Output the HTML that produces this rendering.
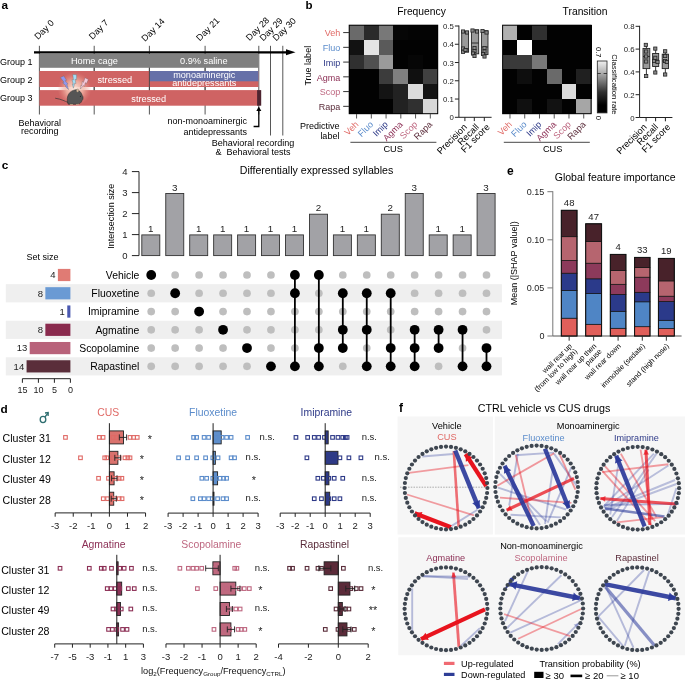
<!DOCTYPE html>
<html><head><meta charset="utf-8"><style>
html,body{margin:0;padding:0;background:#fff;width:685px;height:680px;overflow:hidden}
svg{display:block;font-family:"Liberation Sans", sans-serif;will-change:transform}
</style></head><body>
<svg width="685" height="680" viewBox="0 0 685 680">
<text x="1.50" y="8.80" font-size="11.8" text-anchor="start" fill="#000" font-weight="bold">a</text>
<text x="38.00" y="40.10" font-size="9" text-anchor="start" fill="#000" transform="rotate(-45 38.00 40.10)">Day 0</text>
<text x="92.40" y="39.90" font-size="9" text-anchor="start" fill="#000" transform="rotate(-45 92.40 39.90)">Day 7</text>
<text x="145.10" y="42.00" font-size="9" text-anchor="start" fill="#000" transform="rotate(-45 145.10 42.00)">Day 14</text>
<text x="199.80" y="41.40" font-size="9" text-anchor="start" fill="#000" transform="rotate(-45 199.80 41.40)">Day 21</text>
<text x="249.60" y="41.20" font-size="9" text-anchor="start" fill="#000" transform="rotate(-45 249.60 41.20)">Day 28</text>
<text x="263.20" y="41.60" font-size="9" text-anchor="start" fill="#000" transform="rotate(-45 263.20 41.60)">Day 29</text>
<text x="276.30" y="41.60" font-size="9" text-anchor="start" fill="#000" transform="rotate(-45 276.30 41.60)">Day 30</text>
<line x1="39.40" y1="45.80" x2="39.40" y2="114.50" stroke="#444" stroke-width="0.9"/>
<line x1="94.20" y1="45.80" x2="94.20" y2="114.50" stroke="#444" stroke-width="0.9"/>
<line x1="149.40" y1="45.80" x2="149.40" y2="114.50" stroke="#444" stroke-width="0.9"/>
<line x1="205.10" y1="45.80" x2="205.10" y2="114.50" stroke="#444" stroke-width="0.9"/>
<line x1="258.80" y1="45.80" x2="258.80" y2="114.50" stroke="#444" stroke-width="0.9"/>
<line x1="270.50" y1="45.80" x2="270.50" y2="135.50" stroke="#444" stroke-width="0.9"/>
<line x1="282.80" y1="45.80" x2="282.80" y2="135.50" stroke="#444" stroke-width="0.9"/>
<rect x="39.40" y="53.80" width="219.00" height="14.00" fill="#808080"/>
<rect x="39.40" y="71.00" width="219.00" height="16.00" fill="#CF6363"/>
<rect x="149.40" y="71.00" width="109.00" height="10.30" fill="#6670A8"/>
<rect x="39.40" y="90.10" width="219.00" height="15.60" fill="#CF6363"/>
<rect x="257.10" y="90.10" width="4.10" height="15.60" fill="#4E2430"/>
<line x1="94.20" y1="67.80" x2="94.20" y2="71.00" stroke="#444" stroke-width="0.9"/>
<line x1="94.20" y1="87.00" x2="94.20" y2="90.10" stroke="#444" stroke-width="0.9"/>
<line x1="149.40" y1="67.80" x2="149.40" y2="71.00" stroke="#444" stroke-width="0.9"/>
<line x1="149.40" y1="87.00" x2="149.40" y2="90.10" stroke="#444" stroke-width="0.9"/>
<line x1="205.10" y1="67.80" x2="205.10" y2="71.00" stroke="#444" stroke-width="0.9"/>
<line x1="205.10" y1="87.00" x2="205.10" y2="90.10" stroke="#444" stroke-width="0.9"/>
<line x1="149.40" y1="71.00" x2="149.40" y2="87.00" stroke="#444" stroke-width="0.9"/>
<line x1="34.00" y1="52.30" x2="287.00" y2="52.30" stroke="#000" stroke-width="2.2"/>
<polygon points="286.00,49.30 295.50,52.30 286.00,55.30" fill="#000"/>
<text x="0.00" y="65.00" font-size="9" text-anchor="start" fill="#000">Group 1</text>
<text x="0.00" y="83.20" font-size="9" text-anchor="start" fill="#000">Group 2</text>
<text x="0.00" y="101.20" font-size="9" text-anchor="start" fill="#000">Group 3</text>
<text x="94.40" y="64.20" font-size="9.2" text-anchor="middle" fill="#fff">Home cage</text>
<text x="203.80" y="64.20" font-size="9.2" text-anchor="middle" fill="#fff">0.9% saline</text>
<text x="114.80" y="82.80" font-size="9.2" text-anchor="middle" fill="#fff">stressed</text>
<text x="148.70" y="101.80" font-size="9.2" text-anchor="middle" fill="#fff">stressed</text>
<text x="204.30" y="77.60" font-size="9.1" text-anchor="middle" fill="#fff">monoaminergic</text>
<text x="204.30" y="85.60" font-size="9.1" text-anchor="middle" fill="#fff">antidepressants</text>
<defs><radialGradient id="glow"><stop offset="0" stop-color="#fbe8de" stop-opacity="1"/><stop offset="0.5" stop-color="#f2b8a8" stop-opacity="0.8"/><stop offset="1" stop-color="#e88a80" stop-opacity="0"/></radialGradient></defs>
<ellipse cx="74.5" cy="89" rx="17" ry="17" fill="url(#glow)"/>
<polygon points="63.78,75.88 60.40,77.62 64.02,82.24 62.55,82.67 66.40,86.20 65.29,86.45 68.60,89.60 66.89,84.32 68.09,84.03 65.04,80.74 66.51,80.31" fill="#9098F0" stroke="#666" stroke-width="0.35" stroke-linejoin="round"/>
<polygon points="76.59,74.78 72.81,74.44 73.42,79.98 71.95,79.57 73.34,84.36 72.27,83.99 73.40,88.20 74.75,83.11 75.92,83.49 75.09,79.30 76.56,79.71" fill="#A2DEF6" stroke="#666" stroke-width="0.35" stroke-linejoin="round"/>
<polygon points="88.32,79.62 85.05,77.68 83.52,82.40 82.35,81.43 81.79,85.88 80.97,85.11 80.40,89.00 83.53,85.51 84.44,86.33 85.27,82.60 86.43,83.57" fill="#F6C8DA" stroke="#666" stroke-width="0.35" stroke-linejoin="round"/>
<path d="M68.2 104.2 C66.3 100.5 66.6 91.5 74.8 89.9 C79 89.4 81.3 92.3 82.1 95.2 C83.4 96.6 83.5 99.3 82.0 100.6 C81.4 102.8 79.6 104.1 77.2 104.3 Z" fill="#555555" stroke="#222" stroke-width="0.5"/>
<ellipse cx="77.6" cy="90.6" rx="1.2" ry="1.6" fill="#d8b898" stroke="#555" stroke-width="0.3"/>
<circle cx="80.40" cy="96.20" r="0.55" fill="#111"/>
<path d="M68.3 102.6 C65 101.2 61.5 99.2 55.2 98.2" fill="none" stroke="#333" stroke-width="0.7"/>
<path d="M70 104.4 L73 104.6 M76 104.5 L79 104.3" fill="none" stroke="#c8a888" stroke-width="0.8"/>
<text x="39.70" y="126.00" font-size="9" text-anchor="middle" fill="#000">Behavioral</text>
<text x="39.70" y="134.00" font-size="9" text-anchor="middle" fill="#000">recording</text>
<text x="247.00" y="124.00" font-size="9" text-anchor="end" fill="#000">non-monoaminergic</text>
<text x="247.00" y="134.80" font-size="9" text-anchor="end" fill="#000">antidepressants</text>
<path d="M253.6 126.5 L258.8 126.5 L258.8 110" fill="none" stroke="#000" stroke-width="1.3"/>
<polygon points="256.30,111.00 258.80,106.50 261.30,111.00" fill="#000"/>
<text x="253.00" y="146.40" font-size="9" text-anchor="middle" fill="#000">Behavioral recording</text>
<text x="253.00" y="155.20" font-size="9" text-anchor="middle" fill="#000">&amp;&#160; Behavioral tests</text>
<text x="305.50" y="9.30" font-size="11.5" text-anchor="start" fill="#000" font-weight="bold">b</text>
<text x="421.50" y="15.20" font-size="10.3" text-anchor="middle" fill="#000">Frequency</text>
<text x="585.00" y="15.20" font-size="10.3" text-anchor="middle" fill="#000">Transition</text>
<rect x="349.20" y="25.20" width="15.25" height="15.25" fill="rgb(106,106,106)" shape-rendering="crispEdges"/>
<rect x="363.95" y="25.20" width="15.25" height="15.25" fill="rgb(42,42,42)" shape-rendering="crispEdges"/>
<rect x="378.70" y="25.20" width="15.25" height="15.25" fill="rgb(120,120,120)" shape-rendering="crispEdges"/>
<rect x="393.45" y="25.20" width="15.25" height="15.25" fill="rgb(6,6,6)" shape-rendering="crispEdges"/>
<rect x="408.20" y="25.20" width="15.25" height="15.25" fill="rgb(4,4,4)" shape-rendering="crispEdges"/>
<rect x="422.95" y="25.20" width="15.25" height="15.25" fill="rgb(4,4,4)" shape-rendering="crispEdges"/>
<rect x="349.20" y="39.95" width="15.25" height="15.25" fill="rgb(18,18,18)" shape-rendering="crispEdges"/>
<rect x="363.95" y="39.95" width="15.25" height="15.25" fill="rgb(228,228,228)" shape-rendering="crispEdges"/>
<rect x="378.70" y="39.95" width="15.25" height="15.25" fill="rgb(90,90,90)" shape-rendering="crispEdges"/>
<rect x="393.45" y="39.95" width="15.25" height="15.25" fill="rgb(2,2,2)" shape-rendering="crispEdges"/>
<rect x="408.20" y="39.95" width="15.25" height="15.25" fill="rgb(2,2,2)" shape-rendering="crispEdges"/>
<rect x="422.95" y="39.95" width="15.25" height="15.25" fill="rgb(2,2,2)" shape-rendering="crispEdges"/>
<rect x="349.20" y="54.70" width="15.25" height="15.25" fill="rgb(48,48,48)" shape-rendering="crispEdges"/>
<rect x="363.95" y="54.70" width="15.25" height="15.25" fill="rgb(80,80,80)" shape-rendering="crispEdges"/>
<rect x="378.70" y="54.70" width="15.25" height="15.25" fill="rgb(154,154,154)" shape-rendering="crispEdges"/>
<rect x="393.45" y="54.70" width="15.25" height="15.25" fill="rgb(2,2,2)" shape-rendering="crispEdges"/>
<rect x="408.20" y="54.70" width="15.25" height="15.25" fill="rgb(6,6,6)" shape-rendering="crispEdges"/>
<rect x="422.95" y="54.70" width="15.25" height="15.25" fill="rgb(2,2,2)" shape-rendering="crispEdges"/>
<rect x="349.20" y="69.45" width="15.25" height="15.25" fill="rgb(2,2,2)" shape-rendering="crispEdges"/>
<rect x="363.95" y="69.45" width="15.25" height="15.25" fill="rgb(2,2,2)" shape-rendering="crispEdges"/>
<rect x="378.70" y="69.45" width="15.25" height="15.25" fill="rgb(60,60,60)" shape-rendering="crispEdges"/>
<rect x="393.45" y="69.45" width="15.25" height="15.25" fill="rgb(128,128,128)" shape-rendering="crispEdges"/>
<rect x="408.20" y="69.45" width="15.25" height="15.25" fill="rgb(16,16,16)" shape-rendering="crispEdges"/>
<rect x="422.95" y="69.45" width="15.25" height="15.25" fill="rgb(64,64,64)" shape-rendering="crispEdges"/>
<rect x="349.20" y="84.20" width="15.25" height="15.25" fill="rgb(2,2,2)" shape-rendering="crispEdges"/>
<rect x="363.95" y="84.20" width="15.25" height="15.25" fill="rgb(2,2,2)" shape-rendering="crispEdges"/>
<rect x="378.70" y="84.20" width="15.25" height="15.25" fill="rgb(20,20,20)" shape-rendering="crispEdges"/>
<rect x="393.45" y="84.20" width="15.25" height="15.25" fill="rgb(34,34,34)" shape-rendering="crispEdges"/>
<rect x="408.20" y="84.20" width="15.25" height="15.25" fill="rgb(220,220,220)" shape-rendering="crispEdges"/>
<rect x="422.95" y="84.20" width="15.25" height="15.25" fill="rgb(20,20,20)" shape-rendering="crispEdges"/>
<rect x="349.20" y="98.95" width="15.25" height="15.25" fill="rgb(2,2,2)" shape-rendering="crispEdges"/>
<rect x="363.95" y="98.95" width="15.25" height="15.25" fill="rgb(2,2,2)" shape-rendering="crispEdges"/>
<rect x="378.70" y="98.95" width="15.25" height="15.25" fill="rgb(2,2,2)" shape-rendering="crispEdges"/>
<rect x="393.45" y="98.95" width="15.25" height="15.25" fill="rgb(34,34,34)" shape-rendering="crispEdges"/>
<rect x="408.20" y="98.95" width="15.25" height="15.25" fill="rgb(48,48,48)" shape-rendering="crispEdges"/>
<rect x="422.95" y="98.95" width="15.25" height="15.25" fill="rgb(216,216,216)" shape-rendering="crispEdges"/>
<rect x="349.20" y="25.20" width="88.50" height="88.50" fill="none" stroke="#000" stroke-width="1"/>
<rect x="502.60" y="25.20" width="15.25" height="15.25" fill="rgb(176,176,176)" shape-rendering="crispEdges"/>
<rect x="517.35" y="25.20" width="15.25" height="15.25" fill="rgb(2,2,2)" shape-rendering="crispEdges"/>
<rect x="532.10" y="25.20" width="15.25" height="15.25" fill="rgb(48,48,48)" shape-rendering="crispEdges"/>
<rect x="546.85" y="25.20" width="15.25" height="15.25" fill="rgb(2,2,2)" shape-rendering="crispEdges"/>
<rect x="561.60" y="25.20" width="15.25" height="15.25" fill="rgb(2,2,2)" shape-rendering="crispEdges"/>
<rect x="576.35" y="25.20" width="15.25" height="15.25" fill="rgb(2,2,2)" shape-rendering="crispEdges"/>
<rect x="502.60" y="39.95" width="15.25" height="15.25" fill="rgb(2,2,2)" shape-rendering="crispEdges"/>
<rect x="517.35" y="39.95" width="15.25" height="15.25" fill="rgb(255,255,255)" shape-rendering="crispEdges"/>
<rect x="532.10" y="39.95" width="15.25" height="15.25" fill="rgb(2,2,2)" shape-rendering="crispEdges"/>
<rect x="546.85" y="39.95" width="15.25" height="15.25" fill="rgb(2,2,2)" shape-rendering="crispEdges"/>
<rect x="561.60" y="39.95" width="15.25" height="15.25" fill="rgb(2,2,2)" shape-rendering="crispEdges"/>
<rect x="576.35" y="39.95" width="15.25" height="15.25" fill="rgb(2,2,2)" shape-rendering="crispEdges"/>
<rect x="502.60" y="54.70" width="15.25" height="15.25" fill="rgb(58,58,58)" shape-rendering="crispEdges"/>
<rect x="517.35" y="54.70" width="15.25" height="15.25" fill="rgb(58,58,58)" shape-rendering="crispEdges"/>
<rect x="532.10" y="54.70" width="15.25" height="15.25" fill="rgb(120,120,120)" shape-rendering="crispEdges"/>
<rect x="546.85" y="54.70" width="15.25" height="15.25" fill="rgb(2,2,2)" shape-rendering="crispEdges"/>
<rect x="561.60" y="54.70" width="15.25" height="15.25" fill="rgb(2,2,2)" shape-rendering="crispEdges"/>
<rect x="576.35" y="54.70" width="15.25" height="15.25" fill="rgb(2,2,2)" shape-rendering="crispEdges"/>
<rect x="502.60" y="69.45" width="15.25" height="15.25" fill="rgb(2,2,2)" shape-rendering="crispEdges"/>
<rect x="517.35" y="69.45" width="15.25" height="15.25" fill="rgb(14,14,14)" shape-rendering="crispEdges"/>
<rect x="532.10" y="69.45" width="15.25" height="15.25" fill="rgb(2,2,2)" shape-rendering="crispEdges"/>
<rect x="546.85" y="69.45" width="15.25" height="15.25" fill="rgb(106,106,106)" shape-rendering="crispEdges"/>
<rect x="561.60" y="69.45" width="15.25" height="15.25" fill="rgb(2,2,2)" shape-rendering="crispEdges"/>
<rect x="576.35" y="69.45" width="15.25" height="15.25" fill="rgb(32,32,32)" shape-rendering="crispEdges"/>
<rect x="502.60" y="84.20" width="15.25" height="15.25" fill="rgb(2,2,2)" shape-rendering="crispEdges"/>
<rect x="517.35" y="84.20" width="15.25" height="15.25" fill="rgb(2,2,2)" shape-rendering="crispEdges"/>
<rect x="532.10" y="84.20" width="15.25" height="15.25" fill="rgb(2,2,2)" shape-rendering="crispEdges"/>
<rect x="546.85" y="84.20" width="15.25" height="15.25" fill="rgb(2,2,2)" shape-rendering="crispEdges"/>
<rect x="561.60" y="84.20" width="15.25" height="15.25" fill="rgb(220,220,220)" shape-rendering="crispEdges"/>
<rect x="576.35" y="84.20" width="15.25" height="15.25" fill="rgb(2,2,2)" shape-rendering="crispEdges"/>
<rect x="502.60" y="98.95" width="15.25" height="15.25" fill="rgb(2,2,2)" shape-rendering="crispEdges"/>
<rect x="517.35" y="98.95" width="15.25" height="15.25" fill="rgb(16,16,16)" shape-rendering="crispEdges"/>
<rect x="532.10" y="98.95" width="15.25" height="15.25" fill="rgb(2,2,2)" shape-rendering="crispEdges"/>
<rect x="546.85" y="98.95" width="15.25" height="15.25" fill="rgb(18,18,18)" shape-rendering="crispEdges"/>
<rect x="561.60" y="98.95" width="15.25" height="15.25" fill="rgb(2,2,2)" shape-rendering="crispEdges"/>
<rect x="576.35" y="98.95" width="15.25" height="15.25" fill="rgb(166,166,166)" shape-rendering="crispEdges"/>
<rect x="502.60" y="25.20" width="88.50" height="88.50" fill="none" stroke="#000" stroke-width="1"/>
<text x="340.30" y="36.28" font-size="9" text-anchor="end" fill="#E06A66">Veh</text>
<line x1="343.20" y1="32.58" x2="349.20" y2="32.58" stroke="#333" stroke-width="1"/>
<text x="340.30" y="51.03" font-size="9" text-anchor="end" fill="#5B8CCB">Fluo</text>
<line x1="343.20" y1="47.33" x2="349.20" y2="47.33" stroke="#333" stroke-width="1"/>
<text x="340.30" y="65.78" font-size="9" text-anchor="end" fill="#2E3A88">Imip</text>
<line x1="343.20" y1="62.08" x2="349.20" y2="62.08" stroke="#333" stroke-width="1"/>
<text x="340.30" y="80.53" font-size="9" text-anchor="end" fill="#8C2F55">Agma</text>
<line x1="343.20" y1="76.83" x2="349.20" y2="76.83" stroke="#333" stroke-width="1"/>
<text x="340.30" y="95.28" font-size="9" text-anchor="end" fill="#BE6780">Scop</text>
<line x1="343.20" y1="91.58" x2="349.20" y2="91.58" stroke="#333" stroke-width="1"/>
<text x="340.30" y="110.03" font-size="9" text-anchor="end" fill="#5A2C3A">Rapa</text>
<line x1="343.20" y1="106.33" x2="349.20" y2="106.33" stroke="#333" stroke-width="1"/>
<line x1="356.57" y1="114.00" x2="356.57" y2="118.50" stroke="#555" stroke-width="1"/>
<text x="359.07" y="125.00" font-size="9" text-anchor="end" fill="#E06A66" transform="rotate(-45 359.07 125.00)">Veh</text>
<line x1="371.32" y1="114.00" x2="371.32" y2="118.50" stroke="#555" stroke-width="1"/>
<text x="373.82" y="125.00" font-size="9" text-anchor="end" fill="#5B8CCB" transform="rotate(-45 373.82 125.00)">Fluo</text>
<line x1="386.07" y1="114.00" x2="386.07" y2="118.50" stroke="#555" stroke-width="1"/>
<text x="388.57" y="125.00" font-size="9" text-anchor="end" fill="#2E3A88" transform="rotate(-45 388.57 125.00)">Imip</text>
<line x1="400.82" y1="114.00" x2="400.82" y2="118.50" stroke="#555" stroke-width="1"/>
<text x="403.32" y="125.00" font-size="9" text-anchor="end" fill="#8C2F55" transform="rotate(-45 403.32 125.00)">Agma</text>
<line x1="415.57" y1="114.00" x2="415.57" y2="118.50" stroke="#555" stroke-width="1"/>
<text x="418.07" y="125.00" font-size="9" text-anchor="end" fill="#BE6780" transform="rotate(-45 418.07 125.00)">Scop</text>
<line x1="430.32" y1="114.00" x2="430.32" y2="118.50" stroke="#555" stroke-width="1"/>
<text x="432.82" y="125.00" font-size="9" text-anchor="end" fill="#5A2C3A" transform="rotate(-45 432.82 125.00)">Rapa</text>
<line x1="350.40" y1="142.30" x2="436.40" y2="142.30" stroke="#333" stroke-width="0.9"/>
<text x="393.20" y="152.40" font-size="9.2" text-anchor="middle" fill="#000">CUS</text>
<line x1="509.98" y1="114.00" x2="509.98" y2="118.50" stroke="#555" stroke-width="1"/>
<text x="512.48" y="125.00" font-size="9" text-anchor="end" fill="#E06A66" transform="rotate(-45 512.48 125.00)">Veh</text>
<line x1="524.73" y1="114.00" x2="524.73" y2="118.50" stroke="#555" stroke-width="1"/>
<text x="527.23" y="125.00" font-size="9" text-anchor="end" fill="#5B8CCB" transform="rotate(-45 527.23 125.00)">Fluo</text>
<line x1="539.48" y1="114.00" x2="539.48" y2="118.50" stroke="#555" stroke-width="1"/>
<text x="541.98" y="125.00" font-size="9" text-anchor="end" fill="#2E3A88" transform="rotate(-45 541.98 125.00)">Imip</text>
<line x1="554.23" y1="114.00" x2="554.23" y2="118.50" stroke="#555" stroke-width="1"/>
<text x="556.73" y="125.00" font-size="9" text-anchor="end" fill="#8C2F55" transform="rotate(-45 556.73 125.00)">Agma</text>
<line x1="568.98" y1="114.00" x2="568.98" y2="118.50" stroke="#555" stroke-width="1"/>
<text x="571.48" y="125.00" font-size="9" text-anchor="end" fill="#BE6780" transform="rotate(-45 571.48 125.00)">Scop</text>
<line x1="583.73" y1="114.00" x2="583.73" y2="118.50" stroke="#555" stroke-width="1"/>
<text x="586.23" y="125.00" font-size="9" text-anchor="end" fill="#5A2C3A" transform="rotate(-45 586.23 125.00)">Rapa</text>
<line x1="503.80" y1="142.30" x2="589.80" y2="142.30" stroke="#333" stroke-width="0.9"/>
<text x="552.60" y="152.40" font-size="9.2" text-anchor="middle" fill="#000">CUS</text>
<text x="311.40" y="65.70" font-size="9" text-anchor="middle" fill="#000" transform="rotate(-90 311.40 65.70)">True label</text>
<text x="339.40" y="129.20" font-size="9" text-anchor="end" fill="#000">Predictive</text>
<text x="339.40" y="139.40" font-size="9" text-anchor="end" fill="#000">label</text>
<defs><linearGradient id="cb" x1="0" y1="0" x2="0" y2="1"><stop offset="0" stop-color="#f0f0f0"/><stop offset="0.2" stop-color="#b8b8b8"/><stop offset="0.6" stop-color="#303030"/><stop offset="0.85" stop-color="#000"/><stop offset="1" stop-color="#000"/></linearGradient></defs>
<rect x="597.30" y="61.00" width="9.70" height="51.90" fill="url(#cb)" stroke="#222" stroke-width="0.8"/>
<line x1="597.30" y1="73.50" x2="600.80" y2="73.50" stroke="#222" stroke-width="0.8"/>
<line x1="603.60" y1="73.50" x2="607.00" y2="73.50" stroke="#222" stroke-width="0.8"/>
<text x="598.20" y="52.20" font-size="7.6" text-anchor="middle" fill="#000" transform="rotate(90 598.20 52.20)" dominant-baseline="middle">0.7</text>
<text x="598.20" y="117.80" font-size="7.6" text-anchor="middle" fill="#000" transform="rotate(90 598.20 117.80)" dominant-baseline="middle">0</text>
<text x="613.60" y="84.40" font-size="7.65" text-anchor="middle" fill="#000" transform="rotate(90 613.60 84.40)" dominant-baseline="middle">Classification rate</text>
<line x1="458.90" y1="25.50" x2="458.90" y2="117.30" stroke="#222" stroke-width="1"/>
<line x1="458.90" y1="117.30" x2="491.60" y2="117.30" stroke="#222" stroke-width="1"/>
<line x1="454.90" y1="117.30" x2="458.90" y2="117.30" stroke="#222" stroke-width="1"/>
<text x="453.90" y="120.30" font-size="7.8" text-anchor="end" fill="#222">0</text>
<line x1="454.90" y1="99.04" x2="458.90" y2="99.04" stroke="#222" stroke-width="1"/>
<text x="453.90" y="102.04" font-size="7.8" text-anchor="end" fill="#222">0.1</text>
<line x1="454.90" y1="80.78" x2="458.90" y2="80.78" stroke="#222" stroke-width="1"/>
<text x="453.90" y="83.78" font-size="7.8" text-anchor="end" fill="#222">0.2</text>
<line x1="454.90" y1="62.52" x2="458.90" y2="62.52" stroke="#222" stroke-width="1"/>
<text x="453.90" y="65.52" font-size="7.8" text-anchor="end" fill="#222">0.3</text>
<line x1="454.90" y1="44.26" x2="458.90" y2="44.26" stroke="#222" stroke-width="1"/>
<text x="453.90" y="47.26" font-size="7.8" text-anchor="end" fill="#222">0.4</text>
<line x1="454.90" y1="26.00" x2="458.90" y2="26.00" stroke="#222" stroke-width="1"/>
<text x="453.90" y="29.00" font-size="7.8" text-anchor="end" fill="#222">0.5</text>
<line x1="464.90" y1="117.30" x2="464.90" y2="121.10" stroke="#222" stroke-width="1"/>
<line x1="474.30" y1="117.30" x2="474.30" y2="121.10" stroke="#222" stroke-width="1"/>
<line x1="484.30" y1="117.30" x2="484.30" y2="121.10" stroke="#222" stroke-width="1"/>
<line x1="465.15" y1="31.20" x2="465.15" y2="31.20" stroke="#222" stroke-width="0.9"/>
<line x1="465.15" y1="51.90" x2="465.15" y2="52.50" stroke="#222" stroke-width="0.9"/>
<rect x="461.70" y="31.20" width="6.90" height="20.70" fill="#9a9a9a" stroke="#222" stroke-width="0.9"/>
<line x1="461.70" y1="49.00" x2="468.60" y2="49.00" stroke="#222" stroke-width="0.9"/>
<line x1="475.05" y1="29.50" x2="475.05" y2="29.90" stroke="#222" stroke-width="0.9"/>
<line x1="475.05" y1="53.80" x2="475.05" y2="56.20" stroke="#222" stroke-width="0.9"/>
<rect x="471.40" y="29.90" width="7.30" height="23.90" fill="#9a9a9a" stroke="#222" stroke-width="0.9"/>
<line x1="471.40" y1="43.00" x2="478.70" y2="43.00" stroke="#222" stroke-width="0.9"/>
<line x1="484.70" y1="30.50" x2="484.70" y2="30.70" stroke="#222" stroke-width="0.9"/>
<line x1="484.70" y1="54.60" x2="484.70" y2="57.00" stroke="#222" stroke-width="0.9"/>
<rect x="481.40" y="30.70" width="6.60" height="23.90" fill="#9a9a9a" stroke="#222" stroke-width="0.9"/>
<line x1="481.40" y1="47.00" x2="488.00" y2="47.00" stroke="#222" stroke-width="0.9"/>
<rect x="461.40" y="29.90" width="3.20" height="3.20" fill="#8a8a8a" stroke="#222" stroke-width="0.8"/>
<rect x="465.40" y="30.90" width="3.20" height="3.20" fill="#8a8a8a" stroke="#222" stroke-width="0.8"/>
<rect x="461.40" y="46.90" width="3.20" height="3.20" fill="#8a8a8a" stroke="#222" stroke-width="0.8"/>
<rect x="465.40" y="48.90" width="3.20" height="3.20" fill="#8a8a8a" stroke="#222" stroke-width="0.8"/>
<rect x="461.40" y="50.20" width="3.20" height="3.20" fill="#8a8a8a" stroke="#222" stroke-width="0.8"/>
<rect x="463.90" y="48.40" width="3.20" height="3.20" fill="#8a8a8a" stroke="#222" stroke-width="0.8"/>
<rect x="470.90" y="28.90" width="3.20" height="3.20" fill="#8a8a8a" stroke="#222" stroke-width="0.8"/>
<rect x="475.40" y="29.90" width="3.20" height="3.20" fill="#8a8a8a" stroke="#222" stroke-width="0.8"/>
<rect x="472.90" y="46.40" width="3.20" height="3.20" fill="#8a8a8a" stroke="#222" stroke-width="0.8"/>
<rect x="472.90" y="49.40" width="3.20" height="3.20" fill="#8a8a8a" stroke="#222" stroke-width="0.8"/>
<rect x="471.40" y="51.90" width="3.20" height="3.20" fill="#8a8a8a" stroke="#222" stroke-width="0.8"/>
<rect x="472.90" y="54.40" width="3.20" height="3.20" fill="#8a8a8a" stroke="#222" stroke-width="0.8"/>
<rect x="480.90" y="29.40" width="3.20" height="3.20" fill="#8a8a8a" stroke="#222" stroke-width="0.8"/>
<rect x="484.90" y="30.90" width="3.20" height="3.20" fill="#8a8a8a" stroke="#222" stroke-width="0.8"/>
<rect x="482.90" y="46.40" width="3.20" height="3.20" fill="#8a8a8a" stroke="#222" stroke-width="0.8"/>
<rect x="482.90" y="49.90" width="3.20" height="3.20" fill="#8a8a8a" stroke="#222" stroke-width="0.8"/>
<rect x="481.40" y="52.40" width="3.20" height="3.20" fill="#8a8a8a" stroke="#222" stroke-width="0.8"/>
<rect x="482.90" y="54.90" width="3.20" height="3.20" fill="#8a8a8a" stroke="#222" stroke-width="0.8"/>
<line x1="639.60" y1="25.80" x2="639.60" y2="117.50" stroke="#222" stroke-width="1"/>
<line x1="639.60" y1="117.50" x2="672.40" y2="117.50" stroke="#222" stroke-width="1"/>
<line x1="635.60" y1="117.50" x2="639.60" y2="117.50" stroke="#222" stroke-width="1"/>
<text x="634.60" y="120.50" font-size="7.8" text-anchor="end" fill="#222">0</text>
<line x1="635.60" y1="94.70" x2="639.60" y2="94.70" stroke="#222" stroke-width="1"/>
<text x="634.60" y="97.70" font-size="7.8" text-anchor="end" fill="#222">0.2</text>
<line x1="635.60" y1="71.90" x2="639.60" y2="71.90" stroke="#222" stroke-width="1"/>
<text x="634.60" y="74.90" font-size="7.8" text-anchor="end" fill="#222">0.4</text>
<line x1="635.60" y1="49.10" x2="639.60" y2="49.10" stroke="#222" stroke-width="1"/>
<text x="634.60" y="52.10" font-size="7.8" text-anchor="end" fill="#222">0.6</text>
<line x1="635.60" y1="26.30" x2="639.60" y2="26.30" stroke="#222" stroke-width="1"/>
<text x="634.60" y="29.30" font-size="7.8" text-anchor="end" fill="#222">0.8</text>
<line x1="646.10" y1="117.50" x2="646.10" y2="121.30" stroke="#222" stroke-width="1"/>
<line x1="655.60" y1="117.50" x2="655.60" y2="121.30" stroke="#222" stroke-width="1"/>
<line x1="665.40" y1="117.50" x2="665.40" y2="121.30" stroke="#222" stroke-width="1"/>
<line x1="646.40" y1="44.90" x2="646.40" y2="48.40" stroke="#222" stroke-width="0.9"/>
<line x1="646.40" y1="68.60" x2="646.40" y2="76.00" stroke="#222" stroke-width="0.9"/>
<rect x="643.00" y="48.40" width="6.80" height="20.20" fill="#9a9a9a" stroke="#222" stroke-width="0.9"/>
<line x1="643.00" y1="56.50" x2="649.80" y2="56.50" stroke="#222" stroke-width="0.9"/>
<line x1="655.65" y1="48.60" x2="655.65" y2="53.50" stroke="#222" stroke-width="0.9"/>
<line x1="655.65" y1="66.50" x2="655.65" y2="72.50" stroke="#222" stroke-width="0.9"/>
<rect x="652.60" y="53.50" width="6.10" height="13.00" fill="#9a9a9a" stroke="#222" stroke-width="0.9"/>
<line x1="652.60" y1="60.00" x2="658.70" y2="60.00" stroke="#222" stroke-width="0.9"/>
<line x1="665.35" y1="51.30" x2="665.35" y2="54.20" stroke="#222" stroke-width="0.9"/>
<line x1="665.35" y1="68.60" x2="665.35" y2="74.50" stroke="#222" stroke-width="0.9"/>
<rect x="662.20" y="54.20" width="6.30" height="14.40" fill="#9a9a9a" stroke="#222" stroke-width="0.9"/>
<line x1="662.20" y1="61.00" x2="668.50" y2="61.00" stroke="#222" stroke-width="0.9"/>
<rect x="644.20" y="43.30" width="3.20" height="3.20" fill="#8a8a8a" stroke="#222" stroke-width="0.8"/>
<rect x="644.60" y="49.90" width="3.20" height="3.20" fill="#8a8a8a" stroke="#222" stroke-width="0.8"/>
<rect x="644.60" y="54.90" width="3.20" height="3.20" fill="#8a8a8a" stroke="#222" stroke-width="0.8"/>
<rect x="644.60" y="59.90" width="3.20" height="3.20" fill="#8a8a8a" stroke="#222" stroke-width="0.8"/>
<rect x="644.60" y="74.40" width="3.20" height="3.20" fill="#8a8a8a" stroke="#222" stroke-width="0.8"/>
<rect x="653.70" y="47.00" width="3.20" height="3.20" fill="#8a8a8a" stroke="#222" stroke-width="0.8"/>
<rect x="653.70" y="56.20" width="3.20" height="3.20" fill="#8a8a8a" stroke="#222" stroke-width="0.8"/>
<rect x="652.40" y="59.40" width="3.20" height="3.20" fill="#8a8a8a" stroke="#222" stroke-width="0.8"/>
<rect x="655.90" y="60.40" width="3.20" height="3.20" fill="#8a8a8a" stroke="#222" stroke-width="0.8"/>
<rect x="653.70" y="70.90" width="3.20" height="3.20" fill="#8a8a8a" stroke="#222" stroke-width="0.8"/>
<rect x="663.60" y="49.70" width="3.20" height="3.20" fill="#8a8a8a" stroke="#222" stroke-width="0.8"/>
<rect x="663.60" y="54.40" width="3.20" height="3.20" fill="#8a8a8a" stroke="#222" stroke-width="0.8"/>
<rect x="663.60" y="59.40" width="3.20" height="3.20" fill="#8a8a8a" stroke="#222" stroke-width="0.8"/>
<rect x="665.20" y="60.40" width="3.20" height="3.20" fill="#8a8a8a" stroke="#222" stroke-width="0.8"/>
<rect x="663.60" y="72.90" width="3.20" height="3.20" fill="#8a8a8a" stroke="#222" stroke-width="0.8"/>
<text x="467.70" y="127.60" font-size="9.3" text-anchor="end" fill="#000" transform="rotate(-45 467.70 127.60)">Precision</text>
<text x="479.60" y="127.60" font-size="9.3" text-anchor="end" fill="#000" transform="rotate(-45 479.60 127.60)">Recall</text>
<text x="490.30" y="127.60" font-size="9.3" text-anchor="end" fill="#000" transform="rotate(-45 490.30 127.60)">F1 score</text>
<text x="647.30" y="127.60" font-size="9.3" text-anchor="end" fill="#000" transform="rotate(-45 647.30 127.60)">Precision</text>
<text x="658.80" y="127.60" font-size="9.3" text-anchor="end" fill="#000" transform="rotate(-45 658.80 127.60)">Recall</text>
<text x="671.00" y="127.60" font-size="9.3" text-anchor="end" fill="#000" transform="rotate(-45 671.00 127.60)">F1 score</text>
<text x="1.70" y="169.40" font-size="11.8" text-anchor="start" fill="#000" font-weight="bold">c</text>
<text x="316.50" y="174.20" font-size="10.6" text-anchor="middle" fill="#000">Differentially expressed syllables</text>
<line x1="139.00" y1="171.60" x2="139.00" y2="255.60" stroke="#222" stroke-width="1"/>
<line x1="131.90" y1="255.60" x2="139.00" y2="255.60" stroke="#222" stroke-width="1"/>
<text x="127.60" y="259.00" font-size="9.5" text-anchor="end" fill="#222">0</text>
<line x1="131.90" y1="234.60" x2="139.00" y2="234.60" stroke="#222" stroke-width="1"/>
<text x="127.60" y="238.00" font-size="9.5" text-anchor="end" fill="#222">1</text>
<line x1="131.90" y1="213.60" x2="139.00" y2="213.60" stroke="#222" stroke-width="1"/>
<text x="127.60" y="217.00" font-size="9.5" text-anchor="end" fill="#222">2</text>
<line x1="131.90" y1="192.60" x2="139.00" y2="192.60" stroke="#222" stroke-width="1"/>
<text x="127.60" y="196.00" font-size="9.5" text-anchor="end" fill="#222">3</text>
<line x1="131.90" y1="171.60" x2="139.00" y2="171.60" stroke="#222" stroke-width="1"/>
<text x="127.60" y="175.00" font-size="9.5" text-anchor="end" fill="#222">4</text>
<text x="114.50" y="216.20" font-size="9" text-anchor="middle" fill="#000" transform="rotate(-90 114.50 216.20)">Intersection size</text>
<rect x="5.80" y="284.17" width="496.10" height="18.20" fill="#EFEFEF"/>
<rect x="5.80" y="320.71" width="496.10" height="18.20" fill="#EFEFEF"/>
<rect x="5.80" y="357.25" width="496.10" height="18.20" fill="#EFEFEF"/>
<rect x="141.80" y="234.90" width="18.00" height="20.70" fill="#A2A2A6" stroke="#333" stroke-width="0.9"/>
<text x="150.80" y="231.90" font-size="9.8" text-anchor="middle" fill="#222">1</text>
<rect x="165.75" y="193.50" width="18.00" height="62.10" fill="#A2A2A6" stroke="#333" stroke-width="0.9"/>
<text x="174.75" y="190.50" font-size="9.8" text-anchor="middle" fill="#222">3</text>
<rect x="189.70" y="234.90" width="18.00" height="20.70" fill="#A2A2A6" stroke="#333" stroke-width="0.9"/>
<text x="198.70" y="231.90" font-size="9.8" text-anchor="middle" fill="#222">1</text>
<rect x="213.65" y="234.90" width="18.00" height="20.70" fill="#A2A2A6" stroke="#333" stroke-width="0.9"/>
<text x="222.65" y="231.90" font-size="9.8" text-anchor="middle" fill="#222">1</text>
<rect x="237.60" y="234.90" width="18.00" height="20.70" fill="#A2A2A6" stroke="#333" stroke-width="0.9"/>
<text x="246.60" y="231.90" font-size="9.8" text-anchor="middle" fill="#222">1</text>
<rect x="261.55" y="234.90" width="18.00" height="20.70" fill="#A2A2A6" stroke="#333" stroke-width="0.9"/>
<text x="270.55" y="231.90" font-size="9.8" text-anchor="middle" fill="#222">1</text>
<rect x="285.50" y="234.90" width="18.00" height="20.70" fill="#A2A2A6" stroke="#333" stroke-width="0.9"/>
<text x="294.50" y="231.90" font-size="9.8" text-anchor="middle" fill="#222">1</text>
<rect x="309.45" y="214.20" width="18.00" height="41.40" fill="#A2A2A6" stroke="#333" stroke-width="0.9"/>
<text x="318.45" y="211.20" font-size="9.8" text-anchor="middle" fill="#222">2</text>
<rect x="333.40" y="234.90" width="18.00" height="20.70" fill="#A2A2A6" stroke="#333" stroke-width="0.9"/>
<text x="342.40" y="231.90" font-size="9.8" text-anchor="middle" fill="#222">1</text>
<rect x="357.35" y="234.90" width="18.00" height="20.70" fill="#A2A2A6" stroke="#333" stroke-width="0.9"/>
<text x="366.35" y="231.90" font-size="9.8" text-anchor="middle" fill="#222">1</text>
<rect x="381.30" y="214.20" width="18.00" height="41.40" fill="#A2A2A6" stroke="#333" stroke-width="0.9"/>
<text x="390.30" y="211.20" font-size="9.8" text-anchor="middle" fill="#222">2</text>
<rect x="405.25" y="193.50" width="18.00" height="62.10" fill="#A2A2A6" stroke="#333" stroke-width="0.9"/>
<text x="414.25" y="190.50" font-size="9.8" text-anchor="middle" fill="#222">3</text>
<rect x="429.20" y="234.90" width="18.00" height="20.70" fill="#A2A2A6" stroke="#333" stroke-width="0.9"/>
<text x="438.20" y="231.90" font-size="9.8" text-anchor="middle" fill="#222">1</text>
<rect x="453.15" y="234.90" width="18.00" height="20.70" fill="#A2A2A6" stroke="#333" stroke-width="0.9"/>
<text x="462.15" y="231.90" font-size="9.8" text-anchor="middle" fill="#222">1</text>
<rect x="477.10" y="193.50" width="18.00" height="62.10" fill="#A2A2A6" stroke="#333" stroke-width="0.9"/>
<text x="486.10" y="190.50" font-size="9.8" text-anchor="middle" fill="#222">3</text>
<circle cx="151.20" cy="293.27" r="3.85" fill="#BEBEBE"/>
<circle cx="151.20" cy="311.54" r="3.85" fill="#BEBEBE"/>
<circle cx="151.20" cy="329.81" r="3.85" fill="#BEBEBE"/>
<circle cx="151.20" cy="348.08" r="3.85" fill="#BEBEBE"/>
<circle cx="151.20" cy="366.35" r="3.85" fill="#BEBEBE"/>
<circle cx="151.20" cy="275.00" r="4.90" fill="#000"/>
<circle cx="175.15" cy="275.00" r="3.85" fill="#BEBEBE"/>
<circle cx="175.15" cy="311.54" r="3.85" fill="#BEBEBE"/>
<circle cx="175.15" cy="329.81" r="3.85" fill="#BEBEBE"/>
<circle cx="175.15" cy="348.08" r="3.85" fill="#BEBEBE"/>
<circle cx="175.15" cy="366.35" r="3.85" fill="#BEBEBE"/>
<circle cx="175.15" cy="293.27" r="4.90" fill="#000"/>
<circle cx="199.10" cy="275.00" r="3.85" fill="#BEBEBE"/>
<circle cx="199.10" cy="293.27" r="3.85" fill="#BEBEBE"/>
<circle cx="199.10" cy="329.81" r="3.85" fill="#BEBEBE"/>
<circle cx="199.10" cy="348.08" r="3.85" fill="#BEBEBE"/>
<circle cx="199.10" cy="366.35" r="3.85" fill="#BEBEBE"/>
<circle cx="199.10" cy="311.54" r="4.90" fill="#000"/>
<circle cx="223.05" cy="275.00" r="3.85" fill="#BEBEBE"/>
<circle cx="223.05" cy="293.27" r="3.85" fill="#BEBEBE"/>
<circle cx="223.05" cy="311.54" r="3.85" fill="#BEBEBE"/>
<circle cx="223.05" cy="348.08" r="3.85" fill="#BEBEBE"/>
<circle cx="223.05" cy="366.35" r="3.85" fill="#BEBEBE"/>
<circle cx="223.05" cy="329.81" r="4.90" fill="#000"/>
<circle cx="247.00" cy="275.00" r="3.85" fill="#BEBEBE"/>
<circle cx="247.00" cy="293.27" r="3.85" fill="#BEBEBE"/>
<circle cx="247.00" cy="311.54" r="3.85" fill="#BEBEBE"/>
<circle cx="247.00" cy="329.81" r="3.85" fill="#BEBEBE"/>
<circle cx="247.00" cy="366.35" r="3.85" fill="#BEBEBE"/>
<circle cx="247.00" cy="348.08" r="4.90" fill="#000"/>
<circle cx="270.95" cy="275.00" r="3.85" fill="#BEBEBE"/>
<circle cx="270.95" cy="293.27" r="3.85" fill="#BEBEBE"/>
<circle cx="270.95" cy="311.54" r="3.85" fill="#BEBEBE"/>
<circle cx="270.95" cy="329.81" r="3.85" fill="#BEBEBE"/>
<circle cx="270.95" cy="348.08" r="3.85" fill="#BEBEBE"/>
<circle cx="270.95" cy="366.35" r="4.90" fill="#000"/>
<circle cx="294.90" cy="311.54" r="3.85" fill="#BEBEBE"/>
<circle cx="294.90" cy="329.81" r="3.85" fill="#BEBEBE"/>
<circle cx="294.90" cy="348.08" r="3.85" fill="#BEBEBE"/>
<line x1="294.90" y1="275.00" x2="294.90" y2="366.35" stroke="#000" stroke-width="1.8"/>
<circle cx="294.90" cy="275.00" r="4.90" fill="#000"/>
<circle cx="294.90" cy="293.27" r="4.90" fill="#000"/>
<circle cx="294.90" cy="366.35" r="4.90" fill="#000"/>
<circle cx="318.85" cy="293.27" r="3.85" fill="#BEBEBE"/>
<circle cx="318.85" cy="311.54" r="3.85" fill="#BEBEBE"/>
<circle cx="318.85" cy="329.81" r="3.85" fill="#BEBEBE"/>
<line x1="318.85" y1="275.00" x2="318.85" y2="366.35" stroke="#000" stroke-width="1.8"/>
<circle cx="318.85" cy="275.00" r="4.90" fill="#000"/>
<circle cx="318.85" cy="348.08" r="4.90" fill="#000"/>
<circle cx="318.85" cy="366.35" r="4.90" fill="#000"/>
<circle cx="342.80" cy="275.00" r="3.85" fill="#BEBEBE"/>
<circle cx="342.80" cy="311.54" r="3.85" fill="#BEBEBE"/>
<circle cx="342.80" cy="366.35" r="3.85" fill="#BEBEBE"/>
<line x1="342.80" y1="293.27" x2="342.80" y2="348.08" stroke="#000" stroke-width="1.8"/>
<circle cx="342.80" cy="293.27" r="4.90" fill="#000"/>
<circle cx="342.80" cy="329.81" r="4.90" fill="#000"/>
<circle cx="342.80" cy="348.08" r="4.90" fill="#000"/>
<circle cx="366.75" cy="275.00" r="3.85" fill="#BEBEBE"/>
<circle cx="366.75" cy="311.54" r="3.85" fill="#BEBEBE"/>
<circle cx="366.75" cy="348.08" r="3.85" fill="#BEBEBE"/>
<line x1="366.75" y1="293.27" x2="366.75" y2="366.35" stroke="#000" stroke-width="1.8"/>
<circle cx="366.75" cy="293.27" r="4.90" fill="#000"/>
<circle cx="366.75" cy="329.81" r="4.90" fill="#000"/>
<circle cx="366.75" cy="366.35" r="4.90" fill="#000"/>
<circle cx="390.70" cy="275.00" r="3.85" fill="#BEBEBE"/>
<circle cx="390.70" cy="311.54" r="3.85" fill="#BEBEBE"/>
<circle cx="390.70" cy="329.81" r="3.85" fill="#BEBEBE"/>
<line x1="390.70" y1="293.27" x2="390.70" y2="366.35" stroke="#000" stroke-width="1.8"/>
<circle cx="390.70" cy="293.27" r="4.90" fill="#000"/>
<circle cx="390.70" cy="348.08" r="4.90" fill="#000"/>
<circle cx="390.70" cy="366.35" r="4.90" fill="#000"/>
<circle cx="414.65" cy="275.00" r="3.85" fill="#BEBEBE"/>
<circle cx="414.65" cy="293.27" r="3.85" fill="#BEBEBE"/>
<circle cx="414.65" cy="311.54" r="3.85" fill="#BEBEBE"/>
<line x1="414.65" y1="329.81" x2="414.65" y2="366.35" stroke="#000" stroke-width="1.8"/>
<circle cx="414.65" cy="329.81" r="4.90" fill="#000"/>
<circle cx="414.65" cy="348.08" r="4.90" fill="#000"/>
<circle cx="414.65" cy="366.35" r="4.90" fill="#000"/>
<circle cx="438.60" cy="275.00" r="3.85" fill="#BEBEBE"/>
<circle cx="438.60" cy="293.27" r="3.85" fill="#BEBEBE"/>
<circle cx="438.60" cy="311.54" r="3.85" fill="#BEBEBE"/>
<circle cx="438.60" cy="366.35" r="3.85" fill="#BEBEBE"/>
<line x1="438.60" y1="329.81" x2="438.60" y2="348.08" stroke="#000" stroke-width="1.8"/>
<circle cx="438.60" cy="329.81" r="4.90" fill="#000"/>
<circle cx="438.60" cy="348.08" r="4.90" fill="#000"/>
<circle cx="462.55" cy="275.00" r="3.85" fill="#BEBEBE"/>
<circle cx="462.55" cy="293.27" r="3.85" fill="#BEBEBE"/>
<circle cx="462.55" cy="311.54" r="3.85" fill="#BEBEBE"/>
<circle cx="462.55" cy="348.08" r="3.85" fill="#BEBEBE"/>
<line x1="462.55" y1="329.81" x2="462.55" y2="366.35" stroke="#000" stroke-width="1.8"/>
<circle cx="462.55" cy="329.81" r="4.90" fill="#000"/>
<circle cx="462.55" cy="366.35" r="4.90" fill="#000"/>
<circle cx="486.50" cy="275.00" r="3.85" fill="#BEBEBE"/>
<circle cx="486.50" cy="293.27" r="3.85" fill="#BEBEBE"/>
<circle cx="486.50" cy="311.54" r="3.85" fill="#BEBEBE"/>
<circle cx="486.50" cy="329.81" r="3.85" fill="#BEBEBE"/>
<line x1="486.50" y1="348.08" x2="486.50" y2="366.35" stroke="#000" stroke-width="1.8"/>
<circle cx="486.50" cy="348.08" r="4.90" fill="#000"/>
<circle cx="486.50" cy="366.35" r="4.90" fill="#000"/>
<text x="139.30" y="278.70" font-size="10.4" text-anchor="end" fill="#000">Vehicle</text>
<rect x="57.88" y="268.90" width="12.52" height="12.20" fill="#E07B74"/>
<text x="55.48" y="278.40" font-size="9.5" text-anchor="end" fill="#222">4</text>
<text x="139.30" y="296.97" font-size="10.4" text-anchor="end" fill="#000">Fluoxetine</text>
<rect x="45.36" y="287.17" width="25.04" height="12.20" fill="#6A9AD4"/>
<text x="42.96" y="296.67" font-size="9.5" text-anchor="end" fill="#222">8</text>
<text x="139.30" y="315.24" font-size="10.4" text-anchor="end" fill="#000">Imipramine</text>
<rect x="67.27" y="305.44" width="3.13" height="12.20" fill="#4A58B0"/>
<text x="64.87" y="314.94" font-size="9.5" text-anchor="end" fill="#222">1</text>
<text x="139.30" y="333.51" font-size="10.4" text-anchor="end" fill="#000">Agmatine</text>
<rect x="45.36" y="323.71" width="25.04" height="12.20" fill="#8A2B4E"/>
<text x="42.96" y="333.21" font-size="9.5" text-anchor="end" fill="#222">8</text>
<text x="139.30" y="351.78" font-size="10.4" text-anchor="end" fill="#000">Scopolamine</text>
<rect x="29.71" y="341.98" width="40.69" height="12.20" fill="#B8627A"/>
<text x="27.31" y="351.48" font-size="9.5" text-anchor="end" fill="#222">13</text>
<text x="139.30" y="370.05" font-size="10.4" text-anchor="end" fill="#000">Rapastinel</text>
<rect x="26.58" y="360.25" width="43.82" height="12.20" fill="#5A2E3A"/>
<text x="24.18" y="369.75" font-size="9.5" text-anchor="end" fill="#222">14</text>
<text x="42.60" y="260.40" font-size="9" text-anchor="middle" fill="#000">Set size</text>
<line x1="22.40" y1="378.70" x2="70.40" y2="378.70" stroke="#222" stroke-width="1"/>
<line x1="22.40" y1="378.70" x2="22.40" y2="382.80" stroke="#222" stroke-width="1"/>
<text x="22.40" y="392.80" font-size="9" text-anchor="middle" fill="#222">15</text>
<line x1="38.40" y1="378.70" x2="38.40" y2="382.80" stroke="#222" stroke-width="1"/>
<text x="38.40" y="392.80" font-size="9" text-anchor="middle" fill="#222">10</text>
<line x1="54.40" y1="378.70" x2="54.40" y2="382.80" stroke="#222" stroke-width="1"/>
<text x="54.40" y="392.80" font-size="9" text-anchor="middle" fill="#222">5</text>
<line x1="70.40" y1="378.70" x2="70.40" y2="382.80" stroke="#222" stroke-width="1"/>
<text x="70.40" y="392.80" font-size="9" text-anchor="middle" fill="#222">0</text>
<text x="507.00" y="174.70" font-size="12" text-anchor="start" fill="#000" font-weight="bold">e</text>
<text x="615.20" y="181.20" font-size="10.5" text-anchor="middle" fill="#000">Global feature importance</text>
<line x1="552.80" y1="191.20" x2="552.80" y2="336.00" stroke="#777" stroke-width="1"/>
<line x1="552.80" y1="336.00" x2="681.60" y2="336.00" stroke="#555" stroke-width="1"/>
<line x1="547.40" y1="336.00" x2="552.80" y2="336.00" stroke="#777" stroke-width="1"/>
<text x="544.40" y="339.30" font-size="9.0" text-anchor="end" fill="#222">0</text>
<line x1="547.40" y1="287.90" x2="552.80" y2="287.90" stroke="#777" stroke-width="1"/>
<text x="544.40" y="291.20" font-size="9.0" text-anchor="end" fill="#222">0.05</text>
<line x1="547.40" y1="239.80" x2="552.80" y2="239.80" stroke="#777" stroke-width="1"/>
<text x="544.40" y="243.10" font-size="9.0" text-anchor="end" fill="#222">0.10</text>
<line x1="547.40" y1="191.70" x2="552.80" y2="191.70" stroke="#777" stroke-width="1"/>
<text x="544.40" y="195.00" font-size="9.0" text-anchor="end" fill="#222">0.15</text>
<text x="517.30" y="263.20" font-size="9" text-anchor="middle" fill="#000" transform="rotate(-90 517.30 263.20)">Mean (|SHAP value|)</text>
<rect x="561.30" y="318.20" width="15.70" height="17.80" fill="#E05F5A" stroke="#111" stroke-width="0.7"/>
<rect x="561.30" y="290.40" width="15.70" height="27.80" fill="#4F85C5" stroke="#111" stroke-width="0.7"/>
<rect x="561.30" y="273.20" width="15.70" height="17.20" fill="#2B3A8A" stroke="#111" stroke-width="0.7"/>
<rect x="561.30" y="260.50" width="15.70" height="12.70" fill="#8D3A5B" stroke="#111" stroke-width="0.7"/>
<rect x="561.30" y="236.70" width="15.70" height="23.80" fill="#B6656F" stroke="#111" stroke-width="0.7"/>
<rect x="561.30" y="210.30" width="15.70" height="26.40" fill="#48222A" stroke="#111" stroke-width="0.7"/>
<rect x="561.30" y="210.30" width="15.70" height="125.70" fill="none" stroke="#111" stroke-width="1"/>
<text x="569.15" y="206.00" font-size="9.5" text-anchor="middle" fill="#222">48</text>
<line x1="569.15" y1="336.00" x2="569.15" y2="340.70" stroke="#333" stroke-width="1"/>
<rect x="585.70" y="324.30" width="15.90" height="11.70" fill="#E05F5A" stroke="#111" stroke-width="0.7"/>
<rect x="585.70" y="293.60" width="15.90" height="30.70" fill="#4F85C5" stroke="#111" stroke-width="0.7"/>
<rect x="585.70" y="278.80" width="15.90" height="14.80" fill="#2B3A8A" stroke="#111" stroke-width="0.7"/>
<rect x="585.70" y="263.20" width="15.90" height="15.60" fill="#8D3A5B" stroke="#111" stroke-width="0.7"/>
<rect x="585.70" y="241.50" width="15.90" height="21.70" fill="#B6656F" stroke="#111" stroke-width="0.7"/>
<rect x="585.70" y="223.80" width="15.90" height="17.70" fill="#48222A" stroke="#111" stroke-width="0.7"/>
<rect x="585.70" y="223.80" width="15.90" height="112.20" fill="none" stroke="#111" stroke-width="1"/>
<text x="593.65" y="219.50" font-size="9.5" text-anchor="middle" fill="#222">47</text>
<line x1="593.65" y1="336.00" x2="593.65" y2="340.70" stroke="#333" stroke-width="1"/>
<rect x="610.30" y="328.30" width="15.60" height="7.70" fill="#E05F5A" stroke="#111" stroke-width="0.7"/>
<rect x="610.30" y="311.30" width="15.60" height="17.00" fill="#4F85C5" stroke="#111" stroke-width="0.7"/>
<rect x="610.30" y="294.40" width="15.60" height="16.90" fill="#2B3A8A" stroke="#111" stroke-width="0.7"/>
<rect x="610.30" y="284.30" width="15.60" height="10.10" fill="#8D3A5B" stroke="#111" stroke-width="0.7"/>
<rect x="610.30" y="270.60" width="15.60" height="13.70" fill="#B6656F" stroke="#111" stroke-width="0.7"/>
<rect x="610.30" y="254.40" width="15.60" height="16.20" fill="#48222A" stroke="#111" stroke-width="0.7"/>
<rect x="610.30" y="254.40" width="15.60" height="81.60" fill="none" stroke="#111" stroke-width="1"/>
<text x="618.10" y="250.10" font-size="9.5" text-anchor="middle" fill="#222">4</text>
<line x1="618.10" y1="336.00" x2="618.10" y2="340.70" stroke="#333" stroke-width="1"/>
<rect x="634.60" y="326.70" width="15.40" height="9.30" fill="#E05F5A" stroke="#111" stroke-width="0.7"/>
<rect x="634.60" y="301.80" width="15.40" height="24.90" fill="#4F85C5" stroke="#111" stroke-width="0.7"/>
<rect x="634.60" y="292.30" width="15.40" height="9.50" fill="#2B3A8A" stroke="#111" stroke-width="0.7"/>
<rect x="634.60" y="277.20" width="15.40" height="15.10" fill="#8D3A5B" stroke="#111" stroke-width="0.7"/>
<rect x="634.60" y="267.40" width="15.40" height="9.80" fill="#B6656F" stroke="#111" stroke-width="0.7"/>
<rect x="634.60" y="257.40" width="15.40" height="10.00" fill="#48222A" stroke="#111" stroke-width="0.7"/>
<rect x="634.60" y="257.40" width="15.40" height="78.60" fill="none" stroke="#111" stroke-width="1"/>
<text x="642.30" y="253.10" font-size="9.5" text-anchor="middle" fill="#222">33</text>
<line x1="642.30" y1="336.00" x2="642.30" y2="340.70" stroke="#333" stroke-width="1"/>
<rect x="658.40" y="328.50" width="15.90" height="7.50" fill="#E05F5A" stroke="#111" stroke-width="0.7"/>
<rect x="658.40" y="320.30" width="15.90" height="8.20" fill="#4F85C5" stroke="#111" stroke-width="0.7"/>
<rect x="658.40" y="301.50" width="15.90" height="18.80" fill="#2B3A8A" stroke="#111" stroke-width="0.7"/>
<rect x="658.40" y="296.20" width="15.90" height="5.30" fill="#8D3A5B" stroke="#111" stroke-width="0.7"/>
<rect x="658.40" y="280.90" width="15.90" height="15.30" fill="#B6656F" stroke="#111" stroke-width="0.7"/>
<rect x="658.40" y="258.40" width="15.90" height="22.50" fill="#48222A" stroke="#111" stroke-width="0.7"/>
<rect x="658.40" y="258.40" width="15.90" height="77.60" fill="none" stroke="#111" stroke-width="1"/>
<text x="666.35" y="254.10" font-size="9.5" text-anchor="middle" fill="#222">19</text>
<line x1="666.35" y1="336.00" x2="666.35" y2="340.70" stroke="#333" stroke-width="1"/>
<text x="572.35" y="346.50" font-size="7.4" text-anchor="end" fill="#000" transform="rotate(-45 572.35 346.50)">wall rear up</text>
<text x="577.72" y="351.87" font-size="7.4" text-anchor="end" fill="#000" transform="rotate(-45 577.72 351.87)">(from low to high)</text>
<text x="596.85" y="346.50" font-size="7.4" text-anchor="end" fill="#000" transform="rotate(-45 596.85 346.50)">wall rear up then</text>
<text x="602.22" y="351.87" font-size="7.4" text-anchor="end" fill="#000" transform="rotate(-45 602.22 351.87)">pause</text>
<text x="621.30" y="346.50" font-size="7.4" text-anchor="end" fill="#000" transform="rotate(-45 621.30 346.50)">wall rear down</text>
<text x="645.50" y="346.50" font-size="7.4" text-anchor="end" fill="#000" transform="rotate(-45 645.50 346.50)">immobile (sedate)</text>
<text x="669.55" y="346.50" font-size="7.4" text-anchor="end" fill="#000" transform="rotate(-45 669.55 346.50)">stand (high nose)</text>
<text x="0.60" y="413.00" font-size="11.8" text-anchor="start" fill="#000" font-weight="bold">d</text>
<g stroke="#2E6E70" stroke-width="1.3" fill="none"><ellipse cx="43.0" cy="419.5" rx="2.8" ry="3.1"/><line x1="44.9" y1="417.2" x2="48.0" y2="413.0"/><polyline points="45.0,413.0 48.2,412.6 48.1,415.9"/></g>
<text x="2.60" y="442.40" font-size="10.6" text-anchor="start" fill="#000">Cluster 31</text>
<text x="2.60" y="462.80" font-size="10.6" text-anchor="start" fill="#000">Cluster 12</text>
<text x="2.60" y="483.30" font-size="10.6" text-anchor="start" fill="#000">Cluster 49</text>
<text x="2.60" y="503.70" font-size="10.6" text-anchor="start" fill="#000">Cluster 28</text>
<text x="1.20" y="573.50" font-size="10.6" text-anchor="start" fill="#000">Cluster 31</text>
<text x="1.20" y="593.80" font-size="10.6" text-anchor="start" fill="#000">Cluster 12</text>
<text x="1.20" y="614.20" font-size="10.6" text-anchor="start" fill="#000">Cluster 49</text>
<text x="1.20" y="634.60" font-size="10.6" text-anchor="start" fill="#000">Cluster 28</text>
<text x="108.20" y="415.50" font-size="10.4" text-anchor="middle" fill="#E06A66">CUS</text>
<line x1="55.16" y1="512.90" x2="145.56" y2="512.90" stroke="#222" stroke-width="1"/>
<line x1="55.16" y1="512.90" x2="55.16" y2="516.70" stroke="#222" stroke-width="1"/>
<text x="55.16" y="528.50" font-size="9.5" text-anchor="middle" fill="#222">-3</text>
<line x1="73.24" y1="512.90" x2="73.24" y2="516.70" stroke="#222" stroke-width="1"/>
<text x="73.24" y="528.50" font-size="9.5" text-anchor="middle" fill="#222">-2</text>
<line x1="91.32" y1="512.90" x2="91.32" y2="516.70" stroke="#222" stroke-width="1"/>
<text x="91.32" y="528.50" font-size="9.5" text-anchor="middle" fill="#222">-1</text>
<line x1="109.40" y1="512.90" x2="109.40" y2="516.70" stroke="#222" stroke-width="1"/>
<text x="109.40" y="528.50" font-size="9.5" text-anchor="middle" fill="#222">0</text>
<line x1="127.48" y1="512.90" x2="127.48" y2="516.70" stroke="#222" stroke-width="1"/>
<text x="127.48" y="528.50" font-size="9.5" text-anchor="middle" fill="#222">1</text>
<line x1="145.56" y1="512.90" x2="145.56" y2="516.70" stroke="#222" stroke-width="1"/>
<text x="145.56" y="528.50" font-size="9.5" text-anchor="middle" fill="#222">2</text>
<rect x="109.40" y="430.90" width="14.10" height="13.00" fill="#DA726D" stroke="#222" stroke-width="0.9"/>
<rect x="109.40" y="451.30" width="8.50" height="13.00" fill="#DA726D" stroke="#222" stroke-width="0.9"/>
<rect x="109.40" y="471.80" width="4.70" height="13.00" fill="#DA726D" stroke="#222" stroke-width="0.9"/>
<rect x="109.40" y="492.20" width="4.34" height="13.00" fill="#DA726D" stroke="#222" stroke-width="0.9"/>
<rect x="63.67" y="435.60" width="3.60" height="3.60" fill="none" stroke="#E06A66" stroke-width="1.1"/>
<rect x="97.48" y="435.60" width="3.60" height="3.60" fill="none" stroke="#E06A66" stroke-width="1.1"/>
<rect x="101.27" y="435.60" width="3.60" height="3.60" fill="none" stroke="#E06A66" stroke-width="1.1"/>
<rect x="111.22" y="435.60" width="3.60" height="3.60" fill="none" stroke="#E06A66" stroke-width="1.1"/>
<rect x="114.47" y="435.60" width="3.60" height="3.60" fill="none" stroke="#E06A66" stroke-width="1.1"/>
<rect x="128.21" y="435.60" width="3.60" height="3.60" fill="none" stroke="#E06A66" stroke-width="1.1"/>
<rect x="131.83" y="435.60" width="3.60" height="3.60" fill="none" stroke="#E06A66" stroke-width="1.1"/>
<rect x="135.44" y="435.60" width="3.60" height="3.60" fill="none" stroke="#E06A66" stroke-width="1.1"/>
<rect x="78.67" y="456.00" width="3.60" height="3.60" fill="none" stroke="#E06A66" stroke-width="1.1"/>
<rect x="102.90" y="456.00" width="3.60" height="3.60" fill="none" stroke="#E06A66" stroke-width="1.1"/>
<rect x="105.07" y="456.00" width="3.60" height="3.60" fill="none" stroke="#E06A66" stroke-width="1.1"/>
<rect x="111.04" y="456.00" width="3.60" height="3.60" fill="none" stroke="#E06A66" stroke-width="1.1"/>
<rect x="117.36" y="456.00" width="3.60" height="3.60" fill="none" stroke="#E06A66" stroke-width="1.1"/>
<rect x="123.15" y="456.00" width="3.60" height="3.60" fill="none" stroke="#E06A66" stroke-width="1.1"/>
<rect x="126.04" y="456.00" width="3.60" height="3.60" fill="none" stroke="#E06A66" stroke-width="1.1"/>
<rect x="128.21" y="456.00" width="3.60" height="3.60" fill="none" stroke="#E06A66" stroke-width="1.1"/>
<rect x="96.75" y="476.50" width="3.60" height="3.60" fill="none" stroke="#E06A66" stroke-width="1.1"/>
<rect x="106.70" y="476.50" width="3.60" height="3.60" fill="none" stroke="#E06A66" stroke-width="1.1"/>
<rect x="110.13" y="476.50" width="3.60" height="3.60" fill="none" stroke="#E06A66" stroke-width="1.1"/>
<rect x="114.47" y="476.50" width="3.60" height="3.60" fill="none" stroke="#E06A66" stroke-width="1.1"/>
<rect x="117.36" y="476.50" width="3.60" height="3.60" fill="none" stroke="#E06A66" stroke-width="1.1"/>
<rect x="120.08" y="476.50" width="3.60" height="3.60" fill="none" stroke="#E06A66" stroke-width="1.1"/>
<rect x="101.45" y="496.90" width="3.60" height="3.60" fill="none" stroke="#E06A66" stroke-width="1.1"/>
<rect x="105.79" y="496.90" width="3.60" height="3.60" fill="none" stroke="#E06A66" stroke-width="1.1"/>
<rect x="109.41" y="496.90" width="3.60" height="3.60" fill="none" stroke="#E06A66" stroke-width="1.1"/>
<rect x="113.02" y="496.90" width="3.60" height="3.60" fill="none" stroke="#E06A66" stroke-width="1.1"/>
<rect x="117.36" y="496.90" width="3.60" height="3.60" fill="none" stroke="#E06A66" stroke-width="1.1"/>
<rect x="120.26" y="496.90" width="3.60" height="3.60" fill="none" stroke="#E06A66" stroke-width="1.1"/>
<line x1="119.34" y1="437.40" x2="126.58" y2="437.40" stroke="#222" stroke-width="0.9"/>
<line x1="119.34" y1="434.40" x2="119.34" y2="440.40" stroke="#222" stroke-width="0.9"/>
<line x1="126.58" y1="434.40" x2="126.58" y2="440.40" stroke="#222" stroke-width="0.9"/>
<line x1="114.82" y1="457.80" x2="120.61" y2="457.80" stroke="#222" stroke-width="0.9"/>
<line x1="114.82" y1="454.80" x2="114.82" y2="460.80" stroke="#222" stroke-width="0.9"/>
<line x1="120.61" y1="454.80" x2="120.61" y2="460.80" stroke="#222" stroke-width="0.9"/>
<line x1="111.57" y1="478.30" x2="116.99" y2="478.30" stroke="#222" stroke-width="0.9"/>
<line x1="111.57" y1="475.30" x2="111.57" y2="481.30" stroke="#222" stroke-width="0.9"/>
<line x1="116.99" y1="475.30" x2="116.99" y2="481.30" stroke="#222" stroke-width="0.9"/>
<line x1="111.21" y1="498.70" x2="116.27" y2="498.70" stroke="#222" stroke-width="0.9"/>
<line x1="111.21" y1="495.70" x2="111.21" y2="501.70" stroke="#222" stroke-width="0.9"/>
<line x1="116.27" y1="495.70" x2="116.27" y2="501.70" stroke="#222" stroke-width="0.9"/>
<line x1="109.40" y1="423.20" x2="109.40" y2="512.90" stroke="#222" stroke-width="1"/>
<text x="147.70" y="442.60" font-size="10.8" text-anchor="start" fill="#222">*</text>
<text x="139.70" y="463.00" font-size="10.8" text-anchor="start" fill="#222">*</text>
<text x="139.70" y="483.50" font-size="10.8" text-anchor="start" fill="#222">*</text>
<text x="139.70" y="503.90" font-size="10.8" text-anchor="start" fill="#222">*</text>
<text x="213.10" y="415.50" font-size="10.4" text-anchor="middle" fill="#5B8CCB">Fluoxetine</text>
<line x1="168.10" y1="513.10" x2="258.10" y2="513.10" stroke="#222" stroke-width="1"/>
<line x1="168.10" y1="513.10" x2="168.10" y2="516.90" stroke="#222" stroke-width="1"/>
<text x="168.10" y="528.70" font-size="9.5" text-anchor="middle" fill="#222">-3</text>
<line x1="183.10" y1="513.10" x2="183.10" y2="516.90" stroke="#222" stroke-width="1"/>
<text x="183.10" y="528.70" font-size="9.5" text-anchor="middle" fill="#222">-2</text>
<line x1="198.10" y1="513.10" x2="198.10" y2="516.90" stroke="#222" stroke-width="1"/>
<text x="198.10" y="528.70" font-size="9.5" text-anchor="middle" fill="#222">-1</text>
<line x1="213.10" y1="513.10" x2="213.10" y2="516.90" stroke="#222" stroke-width="1"/>
<text x="213.10" y="528.70" font-size="9.5" text-anchor="middle" fill="#222">0</text>
<line x1="228.10" y1="513.10" x2="228.10" y2="516.90" stroke="#222" stroke-width="1"/>
<text x="228.10" y="528.70" font-size="9.5" text-anchor="middle" fill="#222">1</text>
<line x1="243.10" y1="513.10" x2="243.10" y2="516.90" stroke="#222" stroke-width="1"/>
<text x="243.10" y="528.70" font-size="9.5" text-anchor="middle" fill="#222">2</text>
<line x1="258.10" y1="513.10" x2="258.10" y2="516.90" stroke="#222" stroke-width="1"/>
<text x="258.10" y="528.70" font-size="9.5" text-anchor="middle" fill="#222">3</text>
<rect x="213.10" y="430.90" width="8.10" height="13.00" fill="#5E8ECB" stroke="#222" stroke-width="0.9"/>
<rect x="213.10" y="451.30" width="2.25" height="13.00" fill="#5E8ECB" stroke="#222" stroke-width="0.9"/>
<rect x="213.10" y="471.80" width="4.50" height="13.00" fill="#5E8ECB" stroke="#222" stroke-width="0.9"/>
<rect x="213.10" y="492.20" width="0.90" height="13.00" fill="#5E8ECB" stroke="#222" stroke-width="0.9"/>
<rect x="191.80" y="435.60" width="3.60" height="3.60" fill="none" stroke="#5B8CCB" stroke-width="1.1"/>
<rect x="194.80" y="435.60" width="3.60" height="3.60" fill="none" stroke="#5B8CCB" stroke-width="1.1"/>
<rect x="202.30" y="435.60" width="3.60" height="3.60" fill="none" stroke="#5B8CCB" stroke-width="1.1"/>
<rect x="206.80" y="435.60" width="3.60" height="3.60" fill="none" stroke="#5B8CCB" stroke-width="1.1"/>
<rect x="214.30" y="435.60" width="3.60" height="3.60" fill="none" stroke="#5B8CCB" stroke-width="1.1"/>
<rect x="220.30" y="435.60" width="3.60" height="3.60" fill="none" stroke="#5B8CCB" stroke-width="1.1"/>
<rect x="224.80" y="435.60" width="3.60" height="3.60" fill="none" stroke="#5B8CCB" stroke-width="1.1"/>
<rect x="229.30" y="435.60" width="3.60" height="3.60" fill="none" stroke="#5B8CCB" stroke-width="1.1"/>
<rect x="245.80" y="435.60" width="3.60" height="3.60" fill="none" stroke="#5B8CCB" stroke-width="1.1"/>
<rect x="176.80" y="456.00" width="3.60" height="3.60" fill="none" stroke="#5B8CCB" stroke-width="1.1"/>
<rect x="185.80" y="456.00" width="3.60" height="3.60" fill="none" stroke="#5B8CCB" stroke-width="1.1"/>
<rect x="194.80" y="456.00" width="3.60" height="3.60" fill="none" stroke="#5B8CCB" stroke-width="1.1"/>
<rect x="203.80" y="456.00" width="3.60" height="3.60" fill="none" stroke="#5B8CCB" stroke-width="1.1"/>
<rect x="211.00" y="456.00" width="3.60" height="3.60" fill="none" stroke="#5B8CCB" stroke-width="1.1"/>
<rect x="216.25" y="456.00" width="3.60" height="3.60" fill="none" stroke="#5B8CCB" stroke-width="1.1"/>
<rect x="229.30" y="456.00" width="3.60" height="3.60" fill="none" stroke="#5B8CCB" stroke-width="1.1"/>
<rect x="232.75" y="456.00" width="3.60" height="3.60" fill="none" stroke="#5B8CCB" stroke-width="1.1"/>
<rect x="200.05" y="476.50" width="3.60" height="3.60" fill="none" stroke="#5B8CCB" stroke-width="1.1"/>
<rect x="204.85" y="476.50" width="3.60" height="3.60" fill="none" stroke="#5B8CCB" stroke-width="1.1"/>
<rect x="211.00" y="476.50" width="3.60" height="3.60" fill="none" stroke="#5B8CCB" stroke-width="1.1"/>
<rect x="214.60" y="476.50" width="3.60" height="3.60" fill="none" stroke="#5B8CCB" stroke-width="1.1"/>
<rect x="218.20" y="476.50" width="3.60" height="3.60" fill="none" stroke="#5B8CCB" stroke-width="1.1"/>
<rect x="221.80" y="476.50" width="3.60" height="3.60" fill="none" stroke="#5B8CCB" stroke-width="1.1"/>
<rect x="224.80" y="476.50" width="3.60" height="3.60" fill="none" stroke="#5B8CCB" stroke-width="1.1"/>
<rect x="191.05" y="496.90" width="3.60" height="3.60" fill="none" stroke="#5B8CCB" stroke-width="1.1"/>
<rect x="198.55" y="496.90" width="3.60" height="3.60" fill="none" stroke="#5B8CCB" stroke-width="1.1"/>
<rect x="202.30" y="496.90" width="3.60" height="3.60" fill="none" stroke="#5B8CCB" stroke-width="1.1"/>
<rect x="206.80" y="496.90" width="3.60" height="3.60" fill="none" stroke="#5B8CCB" stroke-width="1.1"/>
<rect x="210.55" y="496.90" width="3.60" height="3.60" fill="none" stroke="#5B8CCB" stroke-width="1.1"/>
<rect x="215.80" y="496.90" width="3.60" height="3.60" fill="none" stroke="#5B8CCB" stroke-width="1.1"/>
<rect x="221.20" y="496.90" width="3.60" height="3.60" fill="none" stroke="#5B8CCB" stroke-width="1.1"/>
<rect x="224.80" y="496.90" width="3.60" height="3.60" fill="none" stroke="#5B8CCB" stroke-width="1.1"/>
<line x1="213.10" y1="423.20" x2="213.10" y2="513.10" stroke="#222" stroke-width="1"/>
<text x="259.50" y="439.80" font-size="9.5" text-anchor="start" fill="#222">n.s.</text>
<text x="245.60" y="460.20" font-size="9.5" text-anchor="start" fill="#222">n.s.</text>
<text x="251.70" y="483.50" font-size="10.8" text-anchor="start" fill="#222">*</text>
<text x="245.60" y="501.10" font-size="9.5" text-anchor="start" fill="#222">n.s.</text>
<text x="326.30" y="415.50" font-size="10.4" text-anchor="middle" fill="#2E3A88">Imipramine</text>
<line x1="280.20" y1="513.10" x2="370.20" y2="513.10" stroke="#222" stroke-width="1"/>
<line x1="280.20" y1="513.10" x2="280.20" y2="516.90" stroke="#222" stroke-width="1"/>
<text x="280.20" y="528.70" font-size="9.5" text-anchor="middle" fill="#222">-3</text>
<line x1="295.20" y1="513.10" x2="295.20" y2="516.90" stroke="#222" stroke-width="1"/>
<text x="295.20" y="528.70" font-size="9.5" text-anchor="middle" fill="#222">-2</text>
<line x1="310.20" y1="513.10" x2="310.20" y2="516.90" stroke="#222" stroke-width="1"/>
<text x="310.20" y="528.70" font-size="9.5" text-anchor="middle" fill="#222">-1</text>
<line x1="325.20" y1="513.10" x2="325.20" y2="516.90" stroke="#222" stroke-width="1"/>
<text x="325.20" y="528.70" font-size="9.5" text-anchor="middle" fill="#222">0</text>
<line x1="340.20" y1="513.10" x2="340.20" y2="516.90" stroke="#222" stroke-width="1"/>
<text x="340.20" y="528.70" font-size="9.5" text-anchor="middle" fill="#222">1</text>
<line x1="355.20" y1="513.10" x2="355.20" y2="516.90" stroke="#222" stroke-width="1"/>
<text x="355.20" y="528.70" font-size="9.5" text-anchor="middle" fill="#222">2</text>
<line x1="370.20" y1="513.10" x2="370.20" y2="516.90" stroke="#222" stroke-width="1"/>
<text x="370.20" y="528.70" font-size="9.5" text-anchor="middle" fill="#222">3</text>
<rect x="325.20" y="430.90" width="3.00" height="13.00" fill="#2E3A86" stroke="#222" stroke-width="0.9"/>
<rect x="325.20" y="451.30" width="12.75" height="13.00" fill="#2E3A86" stroke="#222" stroke-width="0.9"/>
<rect x="325.20" y="471.80" width="3.75" height="13.00" fill="#2E3A86" stroke="#222" stroke-width="0.9"/>
<rect x="325.20" y="492.20" width="4.50" height="13.00" fill="#2E3A86" stroke="#222" stroke-width="0.9"/>
<rect x="294.15" y="435.60" width="3.60" height="3.60" fill="none" stroke="#2E3A88" stroke-width="1.1"/>
<rect x="305.85" y="435.60" width="3.60" height="3.60" fill="none" stroke="#2E3A88" stroke-width="1.1"/>
<rect x="312.45" y="435.60" width="3.60" height="3.60" fill="none" stroke="#2E3A88" stroke-width="1.1"/>
<rect x="316.80" y="435.60" width="3.60" height="3.60" fill="none" stroke="#2E3A88" stroke-width="1.1"/>
<rect x="322.65" y="435.60" width="3.60" height="3.60" fill="none" stroke="#2E3A88" stroke-width="1.1"/>
<rect x="330.75" y="435.60" width="3.60" height="3.60" fill="none" stroke="#2E3A88" stroke-width="1.1"/>
<rect x="336.15" y="435.60" width="3.60" height="3.60" fill="none" stroke="#2E3A88" stroke-width="1.1"/>
<rect x="340.95" y="435.60" width="3.60" height="3.60" fill="none" stroke="#2E3A88" stroke-width="1.1"/>
<rect x="343.50" y="435.60" width="3.60" height="3.60" fill="none" stroke="#2E3A88" stroke-width="1.1"/>
<rect x="345.30" y="435.60" width="3.60" height="3.60" fill="none" stroke="#2E3A88" stroke-width="1.1"/>
<rect x="305.10" y="456.00" width="3.60" height="3.60" fill="none" stroke="#2E3A88" stroke-width="1.1"/>
<rect x="330.75" y="456.00" width="3.60" height="3.60" fill="none" stroke="#2E3A88" stroke-width="1.1"/>
<rect x="338.10" y="456.00" width="3.60" height="3.60" fill="none" stroke="#2E3A88" stroke-width="1.1"/>
<rect x="347.10" y="456.00" width="3.60" height="3.60" fill="none" stroke="#2E3A88" stroke-width="1.1"/>
<rect x="359.10" y="456.00" width="3.60" height="3.60" fill="none" stroke="#2E3A88" stroke-width="1.1"/>
<rect x="316.05" y="476.50" width="3.60" height="3.60" fill="none" stroke="#2E3A88" stroke-width="1.1"/>
<rect x="321.60" y="476.50" width="3.60" height="3.60" fill="none" stroke="#2E3A88" stroke-width="1.1"/>
<rect x="327.00" y="476.50" width="3.60" height="3.60" fill="none" stroke="#2E3A88" stroke-width="1.1"/>
<rect x="332.40" y="476.50" width="3.60" height="3.60" fill="none" stroke="#2E3A88" stroke-width="1.1"/>
<rect x="340.95" y="476.50" width="3.60" height="3.60" fill="none" stroke="#2E3A88" stroke-width="1.1"/>
<rect x="312.45" y="496.90" width="3.60" height="3.60" fill="none" stroke="#2E3A88" stroke-width="1.1"/>
<rect x="319.65" y="496.90" width="3.60" height="3.60" fill="none" stroke="#2E3A88" stroke-width="1.1"/>
<rect x="327.00" y="496.90" width="3.60" height="3.60" fill="none" stroke="#2E3A88" stroke-width="1.1"/>
<rect x="332.40" y="496.90" width="3.60" height="3.60" fill="none" stroke="#2E3A88" stroke-width="1.1"/>
<rect x="338.10" y="496.90" width="3.60" height="3.60" fill="none" stroke="#2E3A88" stroke-width="1.1"/>
<line x1="325.20" y1="423.20" x2="325.20" y2="513.10" stroke="#222" stroke-width="1"/>
<text x="361.70" y="439.80" font-size="9.5" text-anchor="start" fill="#222">n.s.</text>
<text x="374.50" y="460.20" font-size="9.5" text-anchor="start" fill="#222">n.s.</text>
<text x="361.70" y="480.70" font-size="9.5" text-anchor="start" fill="#222">n.s.</text>
<text x="361.70" y="501.10" font-size="9.5" text-anchor="start" fill="#222">n.s.</text>
<text x="103.60" y="547.50" font-size="10.4" text-anchor="middle" fill="#8C2F55">Agmatine</text>
<line x1="54.71" y1="643.90" x2="143.41" y2="643.90" stroke="#222" stroke-width="1"/>
<line x1="54.71" y1="643.90" x2="54.71" y2="647.70" stroke="#222" stroke-width="1"/>
<text x="54.71" y="659.50" font-size="9.5" text-anchor="middle" fill="#222">-7</text>
<line x1="72.45" y1="643.90" x2="72.45" y2="647.70" stroke="#222" stroke-width="1"/>
<text x="72.45" y="659.50" font-size="9.5" text-anchor="middle" fill="#222">-5</text>
<line x1="90.19" y1="643.90" x2="90.19" y2="647.70" stroke="#222" stroke-width="1"/>
<text x="90.19" y="659.50" font-size="9.5" text-anchor="middle" fill="#222">-3</text>
<line x1="107.93" y1="643.90" x2="107.93" y2="647.70" stroke="#222" stroke-width="1"/>
<text x="107.93" y="659.50" font-size="9.5" text-anchor="middle" fill="#222">-1</text>
<line x1="125.67" y1="643.90" x2="125.67" y2="647.70" stroke="#222" stroke-width="1"/>
<text x="125.67" y="659.50" font-size="9.5" text-anchor="middle" fill="#222">1</text>
<line x1="143.41" y1="643.90" x2="143.41" y2="647.70" stroke="#222" stroke-width="1"/>
<text x="143.41" y="659.50" font-size="9.5" text-anchor="middle" fill="#222">3</text>
<rect x="116.80" y="561.80" width="1.33" height="13.00" fill="#8C3558" stroke="#222" stroke-width="0.9"/>
<rect x="116.80" y="582.10" width="4.88" height="13.00" fill="#8C3558" stroke="#222" stroke-width="0.9"/>
<rect x="116.80" y="602.50" width="3.73" height="13.00" fill="#8C3558" stroke="#222" stroke-width="0.9"/>
<rect x="116.80" y="622.90" width="1.77" height="13.00" fill="#8C3558" stroke="#222" stroke-width="0.9"/>
<rect x="58.23" y="566.50" width="3.60" height="3.60" fill="none" stroke="#8C2F55" stroke-width="1.1"/>
<rect x="87.50" y="566.50" width="3.60" height="3.60" fill="none" stroke="#8C2F55" stroke-width="1.1"/>
<rect x="99.48" y="566.50" width="3.60" height="3.60" fill="none" stroke="#8C2F55" stroke-width="1.1"/>
<rect x="102.40" y="566.50" width="3.60" height="3.60" fill="none" stroke="#8C2F55" stroke-width="1.1"/>
<rect x="109.68" y="566.50" width="3.60" height="3.60" fill="none" stroke="#8C2F55" stroke-width="1.1"/>
<rect x="117.93" y="566.50" width="3.60" height="3.60" fill="none" stroke="#8C2F55" stroke-width="1.1"/>
<rect x="122.36" y="566.50" width="3.60" height="3.60" fill="none" stroke="#8C2F55" stroke-width="1.1"/>
<rect x="129.64" y="566.50" width="3.60" height="3.60" fill="none" stroke="#8C2F55" stroke-width="1.1"/>
<rect x="105.42" y="586.80" width="3.60" height="3.60" fill="none" stroke="#8C2F55" stroke-width="1.1"/>
<rect x="109.23" y="586.80" width="3.60" height="3.60" fill="none" stroke="#8C2F55" stroke-width="1.1"/>
<rect x="113.49" y="586.80" width="3.60" height="3.60" fill="none" stroke="#8C2F55" stroke-width="1.1"/>
<rect x="117.93" y="586.80" width="3.60" height="3.60" fill="none" stroke="#8C2F55" stroke-width="1.1"/>
<rect x="126.53" y="586.80" width="3.60" height="3.60" fill="none" stroke="#8C2F55" stroke-width="1.1"/>
<rect x="132.47" y="586.80" width="3.60" height="3.60" fill="none" stroke="#8C2F55" stroke-width="1.1"/>
<rect x="111.19" y="607.20" width="3.60" height="3.60" fill="none" stroke="#8C2F55" stroke-width="1.1"/>
<rect x="115.00" y="607.20" width="3.60" height="3.60" fill="none" stroke="#8C2F55" stroke-width="1.1"/>
<rect x="119.44" y="607.20" width="3.60" height="3.60" fill="none" stroke="#8C2F55" stroke-width="1.1"/>
<rect x="129.01" y="607.20" width="3.60" height="3.60" fill="none" stroke="#8C2F55" stroke-width="1.1"/>
<rect x="106.75" y="627.60" width="3.60" height="3.60" fill="none" stroke="#8C2F55" stroke-width="1.1"/>
<rect x="110.56" y="627.60" width="3.60" height="3.60" fill="none" stroke="#8C2F55" stroke-width="1.1"/>
<rect x="115.00" y="627.60" width="3.60" height="3.60" fill="none" stroke="#8C2F55" stroke-width="1.1"/>
<rect x="120.77" y="627.60" width="3.60" height="3.60" fill="none" stroke="#8C2F55" stroke-width="1.1"/>
<rect x="125.20" y="627.60" width="3.60" height="3.60" fill="none" stroke="#8C2F55" stroke-width="1.1"/>
<line x1="116.80" y1="554.80" x2="116.80" y2="643.90" stroke="#222" stroke-width="1"/>
<text x="142.20" y="570.70" font-size="9.5" text-anchor="start" fill="#222">n.s.</text>
<text x="142.20" y="591.00" font-size="9.5" text-anchor="start" fill="#222">n.s.</text>
<text x="142.20" y="611.40" font-size="9.5" text-anchor="start" fill="#222">n.s.</text>
<text x="142.20" y="631.80" font-size="9.5" text-anchor="start" fill="#222">n.s.</text>
<text x="211.30" y="547.50" font-size="10.4" text-anchor="middle" fill="#BE6780">Scopolamine</text>
<line x1="165.98" y1="643.90" x2="256.18" y2="643.90" stroke="#222" stroke-width="1"/>
<line x1="165.98" y1="643.90" x2="165.98" y2="647.70" stroke="#222" stroke-width="1"/>
<text x="165.98" y="659.50" font-size="9.5" text-anchor="middle" fill="#222">-3</text>
<line x1="184.02" y1="643.90" x2="184.02" y2="647.70" stroke="#222" stroke-width="1"/>
<text x="184.02" y="659.50" font-size="9.5" text-anchor="middle" fill="#222">-2</text>
<line x1="202.06" y1="643.90" x2="202.06" y2="647.70" stroke="#222" stroke-width="1"/>
<text x="202.06" y="659.50" font-size="9.5" text-anchor="middle" fill="#222">-1</text>
<line x1="220.10" y1="643.90" x2="220.10" y2="647.70" stroke="#222" stroke-width="1"/>
<text x="220.10" y="659.50" font-size="9.5" text-anchor="middle" fill="#222">0</text>
<line x1="238.14" y1="643.90" x2="238.14" y2="647.70" stroke="#222" stroke-width="1"/>
<text x="238.14" y="659.50" font-size="9.5" text-anchor="middle" fill="#222">1</text>
<line x1="256.18" y1="643.90" x2="256.18" y2="647.70" stroke="#222" stroke-width="1"/>
<text x="256.18" y="659.50" font-size="9.5" text-anchor="middle" fill="#222">2</text>
<rect x="212.88" y="561.80" width="7.22" height="13.00" fill="#C0697F" stroke="#222" stroke-width="0.9"/>
<rect x="220.10" y="582.10" width="15.69" height="13.00" fill="#C0697F" stroke="#222" stroke-width="0.9"/>
<rect x="220.10" y="602.50" width="9.38" height="13.00" fill="#C0697F" stroke="#222" stroke-width="0.9"/>
<rect x="220.10" y="622.90" width="10.82" height="13.00" fill="#C0697F" stroke="#222" stroke-width="0.9"/>
<rect x="178.07" y="566.50" width="3.60" height="3.60" fill="none" stroke="#BE6780" stroke-width="1.1"/>
<rect x="186.55" y="566.50" width="3.60" height="3.60" fill="none" stroke="#BE6780" stroke-width="1.1"/>
<rect x="191.24" y="566.50" width="3.60" height="3.60" fill="none" stroke="#BE6780" stroke-width="1.1"/>
<rect x="194.85" y="566.50" width="3.60" height="3.60" fill="none" stroke="#BE6780" stroke-width="1.1"/>
<rect x="199.90" y="566.50" width="3.60" height="3.60" fill="none" stroke="#BE6780" stroke-width="1.1"/>
<rect x="213.97" y="566.50" width="3.60" height="3.60" fill="none" stroke="#BE6780" stroke-width="1.1"/>
<rect x="232.91" y="566.50" width="3.60" height="3.60" fill="none" stroke="#BE6780" stroke-width="1.1"/>
<rect x="235.08" y="566.50" width="3.60" height="3.60" fill="none" stroke="#BE6780" stroke-width="1.1"/>
<rect x="195.57" y="586.80" width="3.60" height="3.60" fill="none" stroke="#BE6780" stroke-width="1.1"/>
<rect x="213.97" y="586.80" width="3.60" height="3.60" fill="none" stroke="#BE6780" stroke-width="1.1"/>
<rect x="224.79" y="586.80" width="3.60" height="3.60" fill="none" stroke="#BE6780" stroke-width="1.1"/>
<rect x="231.47" y="586.80" width="3.60" height="3.60" fill="none" stroke="#BE6780" stroke-width="1.1"/>
<rect x="237.60" y="586.80" width="3.60" height="3.60" fill="none" stroke="#BE6780" stroke-width="1.1"/>
<rect x="242.47" y="586.80" width="3.60" height="3.60" fill="none" stroke="#BE6780" stroke-width="1.1"/>
<rect x="247.52" y="586.80" width="3.60" height="3.60" fill="none" stroke="#BE6780" stroke-width="1.1"/>
<rect x="224.79" y="607.20" width="3.60" height="3.60" fill="none" stroke="#BE6780" stroke-width="1.1"/>
<rect x="229.12" y="607.20" width="3.60" height="3.60" fill="none" stroke="#BE6780" stroke-width="1.1"/>
<rect x="233.99" y="607.20" width="3.60" height="3.60" fill="none" stroke="#BE6780" stroke-width="1.1"/>
<rect x="238.32" y="607.20" width="3.60" height="3.60" fill="none" stroke="#BE6780" stroke-width="1.1"/>
<rect x="212.17" y="627.60" width="3.60" height="3.60" fill="none" stroke="#BE6780" stroke-width="1.1"/>
<rect x="222.99" y="627.60" width="3.60" height="3.60" fill="none" stroke="#BE6780" stroke-width="1.1"/>
<rect x="227.86" y="627.60" width="3.60" height="3.60" fill="none" stroke="#BE6780" stroke-width="1.1"/>
<rect x="236.34" y="627.60" width="3.60" height="3.60" fill="none" stroke="#BE6780" stroke-width="1.1"/>
<rect x="239.41" y="627.60" width="3.60" height="3.60" fill="none" stroke="#BE6780" stroke-width="1.1"/>
<rect x="243.01" y="627.60" width="3.60" height="3.60" fill="none" stroke="#BE6780" stroke-width="1.1"/>
<line x1="205.67" y1="568.30" x2="218.30" y2="568.30" stroke="#222" stroke-width="0.9"/>
<line x1="205.67" y1="565.30" x2="205.67" y2="571.30" stroke="#222" stroke-width="0.9"/>
<line x1="218.30" y1="565.30" x2="218.30" y2="571.30" stroke="#222" stroke-width="0.9"/>
<line x1="230.92" y1="588.60" x2="239.94" y2="588.60" stroke="#222" stroke-width="0.9"/>
<line x1="230.92" y1="585.60" x2="230.92" y2="591.60" stroke="#222" stroke-width="0.9"/>
<line x1="239.94" y1="585.60" x2="239.94" y2="591.60" stroke="#222" stroke-width="0.9"/>
<line x1="226.41" y1="609.00" x2="232.37" y2="609.00" stroke="#222" stroke-width="0.9"/>
<line x1="226.41" y1="606.00" x2="226.41" y2="612.00" stroke="#222" stroke-width="0.9"/>
<line x1="232.37" y1="606.00" x2="232.37" y2="612.00" stroke="#222" stroke-width="0.9"/>
<line x1="227.32" y1="629.40" x2="234.53" y2="629.40" stroke="#222" stroke-width="0.9"/>
<line x1="227.32" y1="626.40" x2="227.32" y2="632.40" stroke="#222" stroke-width="0.9"/>
<line x1="234.53" y1="626.40" x2="234.53" y2="632.40" stroke="#222" stroke-width="0.9"/>
<line x1="220.10" y1="554.80" x2="220.10" y2="643.90" stroke="#222" stroke-width="1"/>
<text x="254.70" y="570.70" font-size="9.5" text-anchor="start" fill="#222">n.s.</text>
<text x="258.20" y="593.80" font-size="10.8" text-anchor="start" fill="#222">*</text>
<text x="254.70" y="611.40" font-size="9.5" text-anchor="start" fill="#222">n.s.</text>
<text x="258.20" y="634.60" font-size="10.8" text-anchor="start" fill="#222">*</text>
<text x="324.50" y="547.50" font-size="10.4" text-anchor="middle" fill="#5A2C3A">Rapastinel</text>
<line x1="278.50" y1="643.90" x2="368.20" y2="643.90" stroke="#222" stroke-width="1"/>
<line x1="278.50" y1="643.90" x2="278.50" y2="647.70" stroke="#222" stroke-width="1"/>
<text x="278.50" y="659.50" font-size="9.5" text-anchor="middle" fill="#222">-4</text>
<line x1="308.40" y1="643.90" x2="308.40" y2="647.70" stroke="#222" stroke-width="1"/>
<text x="308.40" y="659.50" font-size="9.5" text-anchor="middle" fill="#222">-2</text>
<line x1="338.30" y1="643.90" x2="338.30" y2="647.70" stroke="#222" stroke-width="1"/>
<text x="338.30" y="659.50" font-size="9.5" text-anchor="middle" fill="#222">0</text>
<line x1="368.20" y1="643.90" x2="368.20" y2="647.70" stroke="#222" stroke-width="1"/>
<text x="368.20" y="659.50" font-size="9.5" text-anchor="middle" fill="#222">2</text>
<rect x="324.10" y="561.80" width="14.20" height="13.00" fill="#5B2B39" stroke="#222" stroke-width="0.9"/>
<rect x="338.30" y="582.10" width="11.66" height="13.00" fill="#5B2B39" stroke="#222" stroke-width="0.9"/>
<rect x="338.30" y="602.50" width="4.04" height="13.00" fill="#5B2B39" stroke="#222" stroke-width="0.9"/>
<rect x="338.30" y="622.90" width="8.67" height="13.00" fill="#5B2B39" stroke="#222" stroke-width="0.9"/>
<rect x="287.76" y="566.50" width="3.60" height="3.60" fill="none" stroke="#5A2C3A" stroke-width="1.1"/>
<rect x="290.75" y="566.50" width="3.60" height="3.60" fill="none" stroke="#5A2C3A" stroke-width="1.1"/>
<rect x="305.25" y="566.50" width="3.60" height="3.60" fill="none" stroke="#5A2C3A" stroke-width="1.1"/>
<rect x="316.17" y="566.50" width="3.60" height="3.60" fill="none" stroke="#5A2C3A" stroke-width="1.1"/>
<rect x="319.76" y="566.50" width="3.60" height="3.60" fill="none" stroke="#5A2C3A" stroke-width="1.1"/>
<rect x="341.58" y="566.50" width="3.60" height="3.60" fill="none" stroke="#5A2C3A" stroke-width="1.1"/>
<rect x="328.88" y="586.80" width="3.60" height="3.60" fill="none" stroke="#5A2C3A" stroke-width="1.1"/>
<rect x="339.79" y="586.80" width="3.60" height="3.60" fill="none" stroke="#5A2C3A" stroke-width="1.1"/>
<rect x="345.32" y="586.80" width="3.60" height="3.60" fill="none" stroke="#5A2C3A" stroke-width="1.1"/>
<rect x="348.91" y="586.80" width="3.60" height="3.60" fill="none" stroke="#5A2C3A" stroke-width="1.1"/>
<rect x="354.44" y="586.80" width="3.60" height="3.60" fill="none" stroke="#5A2C3A" stroke-width="1.1"/>
<rect x="359.22" y="586.80" width="3.60" height="3.60" fill="none" stroke="#5A2C3A" stroke-width="1.1"/>
<rect x="334.26" y="607.20" width="3.60" height="3.60" fill="none" stroke="#5A2C3A" stroke-width="1.1"/>
<rect x="338.74" y="607.20" width="3.60" height="3.60" fill="none" stroke="#5A2C3A" stroke-width="1.1"/>
<rect x="343.53" y="607.20" width="3.60" height="3.60" fill="none" stroke="#5A2C3A" stroke-width="1.1"/>
<rect x="347.11" y="607.20" width="3.60" height="3.60" fill="none" stroke="#5A2C3A" stroke-width="1.1"/>
<rect x="323.49" y="627.60" width="3.60" height="3.60" fill="none" stroke="#5A2C3A" stroke-width="1.1"/>
<rect x="336.20" y="627.60" width="3.60" height="3.60" fill="none" stroke="#5A2C3A" stroke-width="1.1"/>
<rect x="341.58" y="627.60" width="3.60" height="3.60" fill="none" stroke="#5A2C3A" stroke-width="1.1"/>
<rect x="347.11" y="627.60" width="3.60" height="3.60" fill="none" stroke="#5A2C3A" stroke-width="1.1"/>
<rect x="352.50" y="627.60" width="3.60" height="3.60" fill="none" stroke="#5A2C3A" stroke-width="1.1"/>
<line x1="318.87" y1="568.30" x2="330.82" y2="568.30" stroke="#222" stroke-width="0.9"/>
<line x1="318.87" y1="565.30" x2="318.87" y2="571.30" stroke="#222" stroke-width="0.9"/>
<line x1="330.82" y1="565.30" x2="330.82" y2="571.30" stroke="#222" stroke-width="0.9"/>
<line x1="345.78" y1="588.60" x2="354.75" y2="588.60" stroke="#222" stroke-width="0.9"/>
<line x1="345.78" y1="585.60" x2="345.78" y2="591.60" stroke="#222" stroke-width="0.9"/>
<line x1="354.75" y1="585.60" x2="354.75" y2="591.60" stroke="#222" stroke-width="0.9"/>
<line x1="339.80" y1="609.00" x2="345.03" y2="609.00" stroke="#222" stroke-width="0.9"/>
<line x1="339.80" y1="606.00" x2="339.80" y2="612.00" stroke="#222" stroke-width="0.9"/>
<line x1="345.03" y1="606.00" x2="345.03" y2="612.00" stroke="#222" stroke-width="0.9"/>
<line x1="342.79" y1="629.40" x2="351.01" y2="629.40" stroke="#222" stroke-width="0.9"/>
<line x1="342.79" y1="626.40" x2="342.79" y2="632.40" stroke="#222" stroke-width="0.9"/>
<line x1="351.01" y1="626.40" x2="351.01" y2="632.40" stroke="#222" stroke-width="0.9"/>
<line x1="338.30" y1="554.80" x2="338.30" y2="643.90" stroke="#222" stroke-width="1"/>
<text x="367.90" y="570.70" font-size="9.5" text-anchor="start" fill="#222">n.s.</text>
<text x="371.20" y="593.80" font-size="10.8" text-anchor="start" fill="#222">*</text>
<text x="368.70" y="614.20" font-size="10.8" text-anchor="start" fill="#222">**</text>
<text x="371.20" y="634.60" font-size="10.8" text-anchor="start" fill="#222">*</text>
<text x="141" y="674" font-size="9.2" fill="#111">log<tspan font-size="6.2" dy="2.3">2</tspan><tspan dy="-2.3">(Frequency</tspan><tspan font-size="6.2" dy="2.3">Group</tspan><tspan dy="-2.3">/Frequency</tspan><tspan font-size="6.2" dy="2.3">CTRL</tspan><tspan dy="-2.3">)</tspan></text>
<text x="398.90" y="412.00" font-size="12" text-anchor="start" fill="#000" font-weight="bold">f</text>
<text x="544.00" y="412.10" font-size="10.7" text-anchor="middle" fill="#000">CTRL vehicle vs CUS drugs</text>
<rect x="397.60" y="416.50" width="95.30" height="118.00" fill="#F6F6F6"/>
<rect x="494.80" y="416.50" width="190.20" height="118.00" fill="#F6F6F6"/>
<rect x="398.30" y="537.30" width="286.70" height="117.90" fill="#F6F6F6"/>
<text x="446.90" y="429.30" font-size="9.2" text-anchor="middle" fill="#000">Vehicle</text>
<text x="446.90" y="440.20" font-size="9.2" text-anchor="middle" fill="#E06A66">CUS</text>
<text x="588.20" y="429.00" font-size="9.2" text-anchor="middle" fill="#000">Monoaminergic</text>
<text x="543.60" y="440.60" font-size="9.1" text-anchor="middle" fill="#5B8CCB">Fluoxetine</text>
<text x="636.40" y="441.00" font-size="9.1" text-anchor="middle" fill="#2E3A88">Imipramine</text>
<text x="541.50" y="549.00" font-size="9.2" text-anchor="middle" fill="#000">Non-monoaminergic</text>
<text x="445.70" y="561.00" font-size="9.2" text-anchor="middle" fill="#8C2F55">Agmatine</text>
<text x="541.10" y="561.00" font-size="9.2" text-anchor="middle" fill="#BE6780">Scopolamine</text>
<text x="637.00" y="561.00" font-size="9.2" text-anchor="middle" fill="#5A2C3A">Rapastinel</text>
<line x1="400.00" y1="487.20" x2="486.00" y2="487.20" stroke="#777" stroke-width="0.6" stroke-dasharray="1.5,1.2"/>
<line x1="422.3" y1="456.5" x2="453.0" y2="454.0" stroke="#2B3A9A" stroke-width="1.9" stroke-opacity="0.32"/>
<line x1="477.5" y1="509.8" x2="451.7" y2="525.9" stroke="#2B3A9A" stroke-width="1.9" stroke-opacity="0.32"/>
<line x1="409.0" y1="472.8" x2="468.4" y2="465.1" stroke="#E8141E" stroke-width="1.8" stroke-opacity="0.4"/>
<line x1="407.0" y1="494.5" x2="474.0" y2="515.4" stroke="#E8141E" stroke-width="1.8" stroke-opacity="0.4"/>
<line x1="453.8" y1="451.2" x2="458.7" y2="526.6" stroke="#E8141E" stroke-width="2.6" stroke-opacity="0.6"/>
<line x1="455.2" y1="450.5" x2="478.9" y2="508.4" stroke="#2B3A9A" stroke-width="4.5" stroke-opacity="0.92"/>
<polygon points="478.90,508.40 472.22,503.36 480.13,500.12" fill="#2B3A9A" fill-opacity="0.92"/>
<line x1="486.2" y1="486.1" x2="465.6" y2="454.0" stroke="#E8141E" stroke-width="4.2" stroke-opacity="1.0"/>
<polygon points="465.60,454.00 472.59,457.50 465.87,461.81" fill="#E8141E" fill-opacity="1.0"/>
<line x1="451.0" y1="527.3" x2="414.7" y2="513.3" stroke="#E8141E" stroke-width="4.2" stroke-opacity="1.0"/>
<polygon points="414.70,513.30 422.41,512.00 419.53,519.44" fill="#E8141E" fill-opacity="1.0"/>
<circle cx="487.40" cy="488.00" r="2.10" fill="#3E4650"/>
<circle cx="487.10" cy="492.99" r="2.10" fill="#3E4650"/>
<circle cx="486.20" cy="497.91" r="2.10" fill="#3E4650"/>
<circle cx="484.71" cy="502.68" r="2.10" fill="#3E4650"/>
<circle cx="482.66" cy="507.24" r="2.10" fill="#3E4650"/>
<circle cx="480.07" cy="511.52" r="2.10" fill="#3E4650"/>
<circle cx="476.99" cy="515.45" r="2.10" fill="#3E4650"/>
<circle cx="473.45" cy="518.99" r="2.10" fill="#3E4650"/>
<circle cx="469.52" cy="522.07" r="2.10" fill="#3E4650"/>
<circle cx="465.24" cy="524.66" r="2.10" fill="#3E4650"/>
<circle cx="460.68" cy="526.71" r="2.10" fill="#3E4650"/>
<circle cx="455.91" cy="528.20" r="2.10" fill="#3E4650"/>
<circle cx="450.99" cy="529.10" r="2.10" fill="#3E4650"/>
<circle cx="446.00" cy="529.40" r="2.10" fill="#3E4650"/>
<circle cx="441.01" cy="529.10" r="2.10" fill="#3E4650"/>
<circle cx="436.09" cy="528.20" r="2.10" fill="#3E4650"/>
<circle cx="431.32" cy="526.71" r="2.10" fill="#3E4650"/>
<circle cx="426.76" cy="524.66" r="2.10" fill="#3E4650"/>
<circle cx="422.48" cy="522.07" r="2.10" fill="#3E4650"/>
<circle cx="418.55" cy="518.99" r="2.10" fill="#3E4650"/>
<circle cx="415.01" cy="515.45" r="2.10" fill="#3E4650"/>
<circle cx="411.93" cy="511.52" r="2.10" fill="#3E4650"/>
<circle cx="409.34" cy="507.24" r="2.10" fill="#3E4650"/>
<circle cx="407.29" cy="502.68" r="2.10" fill="#3E4650"/>
<circle cx="405.80" cy="497.91" r="2.10" fill="#3E4650"/>
<circle cx="404.90" cy="492.99" r="2.10" fill="#3E4650"/>
<circle cx="404.60" cy="488.00" r="2.10" fill="#3E4650"/>
<circle cx="404.90" cy="483.01" r="2.10" fill="#3E4650"/>
<circle cx="405.80" cy="478.09" r="2.10" fill="#3E4650"/>
<circle cx="407.29" cy="473.32" r="2.10" fill="#3E4650"/>
<circle cx="409.34" cy="468.76" r="2.10" fill="#3E4650"/>
<circle cx="411.93" cy="464.48" r="2.10" fill="#3E4650"/>
<circle cx="415.01" cy="460.55" r="2.10" fill="#3E4650"/>
<circle cx="418.55" cy="457.01" r="2.10" fill="#3E4650"/>
<circle cx="422.48" cy="453.93" r="2.10" fill="#3E4650"/>
<circle cx="426.76" cy="451.34" r="2.10" fill="#3E4650"/>
<circle cx="431.32" cy="449.29" r="2.10" fill="#3E4650"/>
<circle cx="436.09" cy="447.80" r="2.10" fill="#3E4650"/>
<circle cx="441.01" cy="446.90" r="2.10" fill="#3E4650"/>
<circle cx="446.00" cy="446.60" r="2.10" fill="#3E4650"/>
<circle cx="450.99" cy="446.90" r="2.10" fill="#3E4650"/>
<circle cx="455.91" cy="447.80" r="2.10" fill="#3E4650"/>
<circle cx="460.68" cy="449.29" r="2.10" fill="#3E4650"/>
<circle cx="465.24" cy="451.34" r="2.10" fill="#3E4650"/>
<circle cx="469.52" cy="453.93" r="2.10" fill="#3E4650"/>
<circle cx="473.45" cy="457.01" r="2.10" fill="#3E4650"/>
<circle cx="476.99" cy="460.55" r="2.10" fill="#3E4650"/>
<circle cx="480.07" cy="464.48" r="2.10" fill="#3E4650"/>
<circle cx="482.66" cy="468.76" r="2.10" fill="#3E4650"/>
<circle cx="484.71" cy="473.32" r="2.10" fill="#3E4650"/>
<circle cx="486.20" cy="478.09" r="2.10" fill="#3E4650"/>
<circle cx="487.10" cy="483.01" r="2.10" fill="#3E4650"/>
<line x1="515.2" y1="455.2" x2="554.2" y2="452.6" stroke="#2B3A9A" stroke-width="1.9" stroke-opacity="0.32"/>
<line x1="517.8" y1="453.9" x2="509.2" y2="505.5" stroke="#2B3A9A" stroke-width="1.9" stroke-opacity="0.32"/>
<line x1="498.0" y1="487.7" x2="566.1" y2="509.5" stroke="#2B3A9A" stroke-width="1.9" stroke-opacity="0.32"/>
<line x1="500.0" y1="473.8" x2="546.3" y2="521.4" stroke="#2B3A9A" stroke-width="1.9" stroke-opacity="0.32"/>
<line x1="510.5" y1="514.8" x2="560.8" y2="517.4" stroke="#2B3A9A" stroke-width="1.9" stroke-opacity="0.32"/>
<line x1="545.0" y1="524.0" x2="552.9" y2="468.5" stroke="#2B3A9A" stroke-width="1.9" stroke-opacity="0.32"/>
<line x1="547.6" y1="522.7" x2="571.4" y2="467.1" stroke="#2B3A9A" stroke-width="1.9" stroke-opacity="0.32"/>
<line x1="554.2" y1="453.9" x2="576.7" y2="485.7" stroke="#2B3A9A" stroke-width="1.9" stroke-opacity="0.32"/>
<line x1="505.0" y1="470.0" x2="540.0" y2="525.0" stroke="#2B3A9A" stroke-width="1.9" stroke-opacity="0.32"/>
<line x1="497.3" y1="485.7" x2="554.2" y2="453.2" stroke="#E8141E" stroke-width="1.9" stroke-opacity="0.42"/>
<line x1="515.8" y1="455.2" x2="531.7" y2="521.4" stroke="#E8141E" stroke-width="1.9" stroke-opacity="0.42"/>
<line x1="500.0" y1="497.6" x2="571.4" y2="502.9" stroke="#E8141E" stroke-width="1.9" stroke-opacity="0.42"/>
<line x1="559.5" y1="453.9" x2="575.4" y2="489.6" stroke="#E8141E" stroke-width="1.9" stroke-opacity="0.42"/>
<line x1="574.0" y1="478.4" x2="506.6" y2="510.2" stroke="#E8141E" stroke-width="3.2" stroke-opacity="0.75"/>
<polygon points="506.60,510.20 509.93,505.27 512.53,510.76" fill="#E8141E" fill-opacity="0.75"/>
<line x1="533.7" y1="526.0" x2="504.6" y2="465.8" stroke="#2B3A9A" stroke-width="4.3" stroke-opacity="0.92"/>
<polygon points="504.60,465.80 511.27,470.22 503.92,473.77" fill="#2B3A9A" fill-opacity="0.92"/>
<line x1="544.9" y1="448.6" x2="568.8" y2="508.2" stroke="#2B3A9A" stroke-width="4.3" stroke-opacity="0.92"/>
<polygon points="568.80,508.20 562.45,503.33 570.03,500.29" fill="#2B3A9A" fill-opacity="0.92"/>
<circle cx="578.00" cy="487.00" r="2.10" fill="#3E4650"/>
<circle cx="577.70" cy="491.99" r="2.10" fill="#3E4650"/>
<circle cx="576.80" cy="496.91" r="2.10" fill="#3E4650"/>
<circle cx="575.31" cy="501.68" r="2.10" fill="#3E4650"/>
<circle cx="573.26" cy="506.24" r="2.10" fill="#3E4650"/>
<circle cx="570.67" cy="510.52" r="2.10" fill="#3E4650"/>
<circle cx="567.59" cy="514.45" r="2.10" fill="#3E4650"/>
<circle cx="564.05" cy="517.99" r="2.10" fill="#3E4650"/>
<circle cx="560.12" cy="521.07" r="2.10" fill="#3E4650"/>
<circle cx="555.84" cy="523.66" r="2.10" fill="#3E4650"/>
<circle cx="551.28" cy="525.71" r="2.10" fill="#3E4650"/>
<circle cx="546.51" cy="527.20" r="2.10" fill="#3E4650"/>
<circle cx="541.59" cy="528.10" r="2.10" fill="#3E4650"/>
<circle cx="536.60" cy="528.40" r="2.10" fill="#3E4650"/>
<circle cx="531.61" cy="528.10" r="2.10" fill="#3E4650"/>
<circle cx="526.69" cy="527.20" r="2.10" fill="#3E4650"/>
<circle cx="521.92" cy="525.71" r="2.10" fill="#3E4650"/>
<circle cx="517.36" cy="523.66" r="2.10" fill="#3E4650"/>
<circle cx="513.08" cy="521.07" r="2.10" fill="#3E4650"/>
<circle cx="509.15" cy="517.99" r="2.10" fill="#3E4650"/>
<circle cx="505.61" cy="514.45" r="2.10" fill="#3E4650"/>
<circle cx="502.53" cy="510.52" r="2.10" fill="#3E4650"/>
<circle cx="499.94" cy="506.24" r="2.10" fill="#3E4650"/>
<circle cx="497.89" cy="501.68" r="2.10" fill="#3E4650"/>
<circle cx="496.40" cy="496.91" r="2.10" fill="#3E4650"/>
<circle cx="495.50" cy="491.99" r="2.10" fill="#3E4650"/>
<circle cx="495.20" cy="487.00" r="2.10" fill="#3E4650"/>
<circle cx="495.50" cy="482.01" r="2.10" fill="#3E4650"/>
<circle cx="496.40" cy="477.09" r="2.10" fill="#3E4650"/>
<circle cx="497.89" cy="472.32" r="2.10" fill="#3E4650"/>
<circle cx="499.94" cy="467.76" r="2.10" fill="#3E4650"/>
<circle cx="502.53" cy="463.48" r="2.10" fill="#3E4650"/>
<circle cx="505.61" cy="459.55" r="2.10" fill="#3E4650"/>
<circle cx="509.15" cy="456.01" r="2.10" fill="#3E4650"/>
<circle cx="513.08" cy="452.93" r="2.10" fill="#3E4650"/>
<circle cx="517.36" cy="450.34" r="2.10" fill="#3E4650"/>
<circle cx="521.92" cy="448.29" r="2.10" fill="#3E4650"/>
<circle cx="526.69" cy="446.80" r="2.10" fill="#3E4650"/>
<circle cx="531.61" cy="445.90" r="2.10" fill="#3E4650"/>
<circle cx="536.60" cy="445.60" r="2.10" fill="#3E4650"/>
<circle cx="541.59" cy="445.90" r="2.10" fill="#3E4650"/>
<circle cx="546.51" cy="446.80" r="2.10" fill="#3E4650"/>
<circle cx="551.28" cy="448.29" r="2.10" fill="#3E4650"/>
<circle cx="555.84" cy="450.34" r="2.10" fill="#3E4650"/>
<circle cx="560.12" cy="452.93" r="2.10" fill="#3E4650"/>
<circle cx="564.05" cy="456.01" r="2.10" fill="#3E4650"/>
<circle cx="567.59" cy="459.55" r="2.10" fill="#3E4650"/>
<circle cx="570.67" cy="463.48" r="2.10" fill="#3E4650"/>
<circle cx="573.26" cy="467.76" r="2.10" fill="#3E4650"/>
<circle cx="575.31" cy="472.32" r="2.10" fill="#3E4650"/>
<circle cx="576.80" cy="477.09" r="2.10" fill="#3E4650"/>
<circle cx="577.70" cy="482.01" r="2.10" fill="#3E4650"/>
<line x1="603.6" y1="506.5" x2="653.9" y2="453.6" stroke="#2B3A9A" stroke-width="1.9" stroke-opacity="0.3"/>
<line x1="603.6" y1="507.5" x2="668.4" y2="465.5" stroke="#2B3A9A" stroke-width="1.9" stroke-opacity="0.3"/>
<line x1="604.9" y1="508.5" x2="675.0" y2="480.0" stroke="#2B3A9A" stroke-width="1.9" stroke-opacity="0.3"/>
<line x1="606.2" y1="510.0" x2="676.4" y2="484.0" stroke="#2B3A9A" stroke-width="1.9" stroke-opacity="0.3"/>
<line x1="610.2" y1="514.5" x2="619.5" y2="457.6" stroke="#2B3A9A" stroke-width="1.9" stroke-opacity="0.3"/>
<line x1="616.8" y1="521.1" x2="648.6" y2="469.5" stroke="#2B3A9A" stroke-width="1.9" stroke-opacity="0.3"/>
<line x1="667.1" y1="517.1" x2="676.4" y2="488.0" stroke="#2B3A9A" stroke-width="1.9" stroke-opacity="0.3"/>
<line x1="612.0" y1="517.0" x2="656.5" y2="453.6" stroke="#2B3A9A" stroke-width="1.9" stroke-opacity="0.3"/>
<line x1="602.3" y1="472.1" x2="668.4" y2="464.2" stroke="#E8141E" stroke-width="1.9" stroke-opacity="0.4"/>
<line x1="604.9" y1="466.2" x2="655.2" y2="521.1" stroke="#E8141E" stroke-width="1.9" stroke-opacity="0.4"/>
<line x1="620.8" y1="453.6" x2="656.5" y2="517.1" stroke="#E8141E" stroke-width="1.9" stroke-opacity="0.4"/>
<line x1="616.8" y1="522.4" x2="663.1" y2="517.1" stroke="#E8141E" stroke-width="1.9" stroke-opacity="0.4"/>
<line x1="602.3" y1="470.8" x2="651.2" y2="525.0" stroke="#E8141E" stroke-width="1.9" stroke-opacity="0.4"/>
<line x1="640.6" y1="449.6" x2="652.0" y2="520.0" stroke="#E8141E" stroke-width="1.9" stroke-opacity="0.4"/>
<line x1="604.9" y1="508.5" x2="664.5" y2="516.5" stroke="#2B3A9A" stroke-width="2.6" stroke-opacity="0.6"/>
<line x1="604.0" y1="505.0" x2="679.0" y2="503.9" stroke="#2B3A9A" stroke-width="1.9" stroke-opacity="0.35"/>
<polygon points="679.00,503.90 674.04,506.57 673.96,501.37" fill="#2B3A9A" fill-opacity="0.35"/>
<line x1="676.4" y1="503.9" x2="600.3" y2="498.6" stroke="#E8141E" stroke-width="3.0" stroke-opacity="0.72"/>
<polygon points="600.30,498.60 605.49,496.10 605.09,501.79" fill="#E8141E" fill-opacity="0.72"/>
<line x1="649.9" y1="525.0" x2="645.9" y2="449.6" stroke="#E8141E" stroke-width="3.0" stroke-opacity="0.72"/>
<polygon points="645.90,449.60 649.01,454.44 643.32,454.74" fill="#E8141E" fill-opacity="0.72"/>
<line x1="644.6" y1="526.4" x2="616.2" y2="455.6" stroke="#2B3A9A" stroke-width="4.3" stroke-opacity="0.92"/>
<polygon points="616.20,455.60 622.55,460.46 614.97,463.51" fill="#2B3A9A" fill-opacity="0.92"/>
<circle cx="679.10" cy="488.20" r="2.10" fill="#3E4650"/>
<circle cx="678.80" cy="493.19" r="2.10" fill="#3E4650"/>
<circle cx="677.90" cy="498.11" r="2.10" fill="#3E4650"/>
<circle cx="676.41" cy="502.88" r="2.10" fill="#3E4650"/>
<circle cx="674.36" cy="507.44" r="2.10" fill="#3E4650"/>
<circle cx="671.77" cy="511.72" r="2.10" fill="#3E4650"/>
<circle cx="668.69" cy="515.65" r="2.10" fill="#3E4650"/>
<circle cx="665.15" cy="519.19" r="2.10" fill="#3E4650"/>
<circle cx="661.22" cy="522.27" r="2.10" fill="#3E4650"/>
<circle cx="656.94" cy="524.86" r="2.10" fill="#3E4650"/>
<circle cx="652.38" cy="526.91" r="2.10" fill="#3E4650"/>
<circle cx="647.61" cy="528.40" r="2.10" fill="#3E4650"/>
<circle cx="642.69" cy="529.30" r="2.10" fill="#3E4650"/>
<circle cx="637.70" cy="529.60" r="2.10" fill="#3E4650"/>
<circle cx="632.71" cy="529.30" r="2.10" fill="#3E4650"/>
<circle cx="627.79" cy="528.40" r="2.10" fill="#3E4650"/>
<circle cx="623.02" cy="526.91" r="2.10" fill="#3E4650"/>
<circle cx="618.46" cy="524.86" r="2.10" fill="#3E4650"/>
<circle cx="614.18" cy="522.27" r="2.10" fill="#3E4650"/>
<circle cx="610.25" cy="519.19" r="2.10" fill="#3E4650"/>
<circle cx="606.71" cy="515.65" r="2.10" fill="#3E4650"/>
<circle cx="603.63" cy="511.72" r="2.10" fill="#3E4650"/>
<circle cx="601.04" cy="507.44" r="2.10" fill="#3E4650"/>
<circle cx="598.99" cy="502.88" r="2.10" fill="#3E4650"/>
<circle cx="597.50" cy="498.11" r="2.10" fill="#3E4650"/>
<circle cx="596.60" cy="493.19" r="2.10" fill="#3E4650"/>
<circle cx="596.30" cy="488.20" r="2.10" fill="#3E4650"/>
<circle cx="596.60" cy="483.21" r="2.10" fill="#3E4650"/>
<circle cx="597.50" cy="478.29" r="2.10" fill="#3E4650"/>
<circle cx="598.99" cy="473.52" r="2.10" fill="#3E4650"/>
<circle cx="601.04" cy="468.96" r="2.10" fill="#3E4650"/>
<circle cx="603.63" cy="464.68" r="2.10" fill="#3E4650"/>
<circle cx="606.71" cy="460.75" r="2.10" fill="#3E4650"/>
<circle cx="610.25" cy="457.21" r="2.10" fill="#3E4650"/>
<circle cx="614.18" cy="454.13" r="2.10" fill="#3E4650"/>
<circle cx="618.46" cy="451.54" r="2.10" fill="#3E4650"/>
<circle cx="623.02" cy="449.49" r="2.10" fill="#3E4650"/>
<circle cx="627.79" cy="448.00" r="2.10" fill="#3E4650"/>
<circle cx="632.71" cy="447.10" r="2.10" fill="#3E4650"/>
<circle cx="637.70" cy="446.80" r="2.10" fill="#3E4650"/>
<circle cx="642.69" cy="447.10" r="2.10" fill="#3E4650"/>
<circle cx="647.61" cy="448.00" r="2.10" fill="#3E4650"/>
<circle cx="652.38" cy="449.49" r="2.10" fill="#3E4650"/>
<circle cx="656.94" cy="451.54" r="2.10" fill="#3E4650"/>
<circle cx="661.22" cy="454.13" r="2.10" fill="#3E4650"/>
<circle cx="665.15" cy="457.21" r="2.10" fill="#3E4650"/>
<circle cx="668.69" cy="460.75" r="2.10" fill="#3E4650"/>
<circle cx="671.77" cy="464.68" r="2.10" fill="#3E4650"/>
<circle cx="674.36" cy="468.96" r="2.10" fill="#3E4650"/>
<circle cx="676.41" cy="473.52" r="2.10" fill="#3E4650"/>
<circle cx="677.90" cy="478.29" r="2.10" fill="#3E4650"/>
<circle cx="678.80" cy="483.21" r="2.10" fill="#3E4650"/>
<line x1="421.5" y1="576.3" x2="470.0" y2="576.7" stroke="#2B3A9A" stroke-width="1.9" stroke-opacity="0.32"/>
<line x1="412.2" y1="588.4" x2="412.2" y2="633.6" stroke="#2B3A9A" stroke-width="1.9" stroke-opacity="0.32"/>
<line x1="479.9" y1="628.1" x2="461.1" y2="645.7" stroke="#2B3A9A" stroke-width="1.9" stroke-opacity="0.32"/>
<line x1="458.9" y1="646.8" x2="453.4" y2="572.5" stroke="#E8141E" stroke-width="2.8" stroke-opacity="0.62"/>
<polygon points="453.40,572.50 456.42,577.29 451.12,577.68" fill="#E8141E" fill-opacity="0.62"/>
<line x1="422.0" y1="576.0" x2="468.0" y2="579.0" stroke="#2B3A9A" stroke-width="1.9" stroke-opacity="0.3"/>
<line x1="485.0" y1="609.4" x2="421.0" y2="639.1" stroke="#E8141E" stroke-width="4.2" stroke-opacity="1.0"/>
<polygon points="421.00,639.10 425.42,632.65 428.78,639.89" fill="#E8141E" fill-opacity="1.0"/>
<circle cx="487.40" cy="608.80" r="2.10" fill="#3E4650"/>
<circle cx="487.10" cy="613.79" r="2.10" fill="#3E4650"/>
<circle cx="486.20" cy="618.71" r="2.10" fill="#3E4650"/>
<circle cx="484.71" cy="623.48" r="2.10" fill="#3E4650"/>
<circle cx="482.66" cy="628.04" r="2.10" fill="#3E4650"/>
<circle cx="480.07" cy="632.32" r="2.10" fill="#3E4650"/>
<circle cx="476.99" cy="636.25" r="2.10" fill="#3E4650"/>
<circle cx="473.45" cy="639.79" r="2.10" fill="#3E4650"/>
<circle cx="469.52" cy="642.87" r="2.10" fill="#3E4650"/>
<circle cx="465.24" cy="645.46" r="2.10" fill="#3E4650"/>
<circle cx="460.68" cy="647.51" r="2.10" fill="#3E4650"/>
<circle cx="455.91" cy="649.00" r="2.10" fill="#3E4650"/>
<circle cx="450.99" cy="649.90" r="2.10" fill="#3E4650"/>
<circle cx="446.00" cy="650.20" r="2.10" fill="#3E4650"/>
<circle cx="441.01" cy="649.90" r="2.10" fill="#3E4650"/>
<circle cx="436.09" cy="649.00" r="2.10" fill="#3E4650"/>
<circle cx="431.32" cy="647.51" r="2.10" fill="#3E4650"/>
<circle cx="426.76" cy="645.46" r="2.10" fill="#3E4650"/>
<circle cx="422.48" cy="642.87" r="2.10" fill="#3E4650"/>
<circle cx="418.55" cy="639.79" r="2.10" fill="#3E4650"/>
<circle cx="415.01" cy="636.25" r="2.10" fill="#3E4650"/>
<circle cx="411.93" cy="632.32" r="2.10" fill="#3E4650"/>
<circle cx="409.34" cy="628.04" r="2.10" fill="#3E4650"/>
<circle cx="407.29" cy="623.48" r="2.10" fill="#3E4650"/>
<circle cx="405.80" cy="618.71" r="2.10" fill="#3E4650"/>
<circle cx="404.90" cy="613.79" r="2.10" fill="#3E4650"/>
<circle cx="404.60" cy="608.80" r="2.10" fill="#3E4650"/>
<circle cx="404.90" cy="603.81" r="2.10" fill="#3E4650"/>
<circle cx="405.80" cy="598.89" r="2.10" fill="#3E4650"/>
<circle cx="407.29" cy="594.12" r="2.10" fill="#3E4650"/>
<circle cx="409.34" cy="589.56" r="2.10" fill="#3E4650"/>
<circle cx="411.93" cy="585.28" r="2.10" fill="#3E4650"/>
<circle cx="415.01" cy="581.35" r="2.10" fill="#3E4650"/>
<circle cx="418.55" cy="577.81" r="2.10" fill="#3E4650"/>
<circle cx="422.48" cy="574.73" r="2.10" fill="#3E4650"/>
<circle cx="426.76" cy="572.14" r="2.10" fill="#3E4650"/>
<circle cx="431.32" cy="570.09" r="2.10" fill="#3E4650"/>
<circle cx="436.09" cy="568.60" r="2.10" fill="#3E4650"/>
<circle cx="441.01" cy="567.70" r="2.10" fill="#3E4650"/>
<circle cx="446.00" cy="567.40" r="2.10" fill="#3E4650"/>
<circle cx="450.99" cy="567.70" r="2.10" fill="#3E4650"/>
<circle cx="455.91" cy="568.60" r="2.10" fill="#3E4650"/>
<circle cx="460.68" cy="570.09" r="2.10" fill="#3E4650"/>
<circle cx="465.24" cy="572.14" r="2.10" fill="#3E4650"/>
<circle cx="469.52" cy="574.73" r="2.10" fill="#3E4650"/>
<circle cx="473.45" cy="577.81" r="2.10" fill="#3E4650"/>
<circle cx="476.99" cy="581.35" r="2.10" fill="#3E4650"/>
<circle cx="480.07" cy="585.28" r="2.10" fill="#3E4650"/>
<circle cx="482.66" cy="589.56" r="2.10" fill="#3E4650"/>
<circle cx="484.71" cy="594.12" r="2.10" fill="#3E4650"/>
<circle cx="486.20" cy="598.89" r="2.10" fill="#3E4650"/>
<circle cx="487.10" cy="603.81" r="2.10" fill="#3E4650"/>
<line x1="505.0" y1="621.1" x2="527.9" y2="570.9" stroke="#2B3A9A" stroke-width="1.9" stroke-opacity="0.32"/>
<line x1="506.8" y1="628.2" x2="561.4" y2="575.3" stroke="#2B3A9A" stroke-width="1.9" stroke-opacity="0.32"/>
<line x1="510.3" y1="632.6" x2="581.7" y2="600.0" stroke="#2B3A9A" stroke-width="1.9" stroke-opacity="0.32"/>
<line x1="557.9" y1="644.1" x2="579.0" y2="622.9" stroke="#2B3A9A" stroke-width="1.9" stroke-opacity="0.32"/>
<polygon points="579.00,622.90 577.32,628.28 573.63,624.61" fill="#2B3A9A" fill-opacity="0.32"/>
<line x1="504.1" y1="614.1" x2="570.2" y2="636.1" stroke="#E8141E" stroke-width="1.7" stroke-opacity="0.4"/>
<line x1="518.2" y1="638.8" x2="581.7" y2="608.8" stroke="#E8141E" stroke-width="1.7" stroke-opacity="0.4"/>
<line x1="509.4" y1="584.1" x2="580.0" y2="598.2" stroke="#2B3A9A" stroke-width="4.5" stroke-opacity="0.92"/>
<polygon points="580.00,598.20 572.10,600.98 573.78,592.60" fill="#2B3A9A" fill-opacity="0.92"/>
<polygon points="509.40,584.10 517.30,581.32 515.62,589.70" fill="#2B3A9A" fill-opacity="0.92"/>
<line x1="506.0" y1="588.0" x2="514.5" y2="576.0" stroke="#2B3A9A" stroke-width="2.0" stroke-opacity="0.95"/>
<polygon points="514.50,576.00 513.73,581.58 509.49,578.58" fill="#2B3A9A" fill-opacity="0.95"/>
<circle cx="583.10" cy="608.50" r="2.10" fill="#3E4650"/>
<circle cx="582.80" cy="613.49" r="2.10" fill="#3E4650"/>
<circle cx="581.90" cy="618.41" r="2.10" fill="#3E4650"/>
<circle cx="580.41" cy="623.18" r="2.10" fill="#3E4650"/>
<circle cx="578.36" cy="627.74" r="2.10" fill="#3E4650"/>
<circle cx="575.77" cy="632.02" r="2.10" fill="#3E4650"/>
<circle cx="572.69" cy="635.95" r="2.10" fill="#3E4650"/>
<circle cx="569.15" cy="639.49" r="2.10" fill="#3E4650"/>
<circle cx="565.22" cy="642.57" r="2.10" fill="#3E4650"/>
<circle cx="560.94" cy="645.16" r="2.10" fill="#3E4650"/>
<circle cx="556.38" cy="647.21" r="2.10" fill="#3E4650"/>
<circle cx="551.61" cy="648.70" r="2.10" fill="#3E4650"/>
<circle cx="546.69" cy="649.60" r="2.10" fill="#3E4650"/>
<circle cx="541.70" cy="649.90" r="2.10" fill="#3E4650"/>
<circle cx="536.71" cy="649.60" r="2.10" fill="#3E4650"/>
<circle cx="531.79" cy="648.70" r="2.10" fill="#3E4650"/>
<circle cx="527.02" cy="647.21" r="2.10" fill="#3E4650"/>
<circle cx="522.46" cy="645.16" r="2.10" fill="#3E4650"/>
<circle cx="518.18" cy="642.57" r="2.10" fill="#3E4650"/>
<circle cx="514.25" cy="639.49" r="2.10" fill="#3E4650"/>
<circle cx="510.71" cy="635.95" r="2.10" fill="#3E4650"/>
<circle cx="507.63" cy="632.02" r="2.10" fill="#3E4650"/>
<circle cx="505.04" cy="627.74" r="2.10" fill="#3E4650"/>
<circle cx="502.99" cy="623.18" r="2.10" fill="#3E4650"/>
<circle cx="501.50" cy="618.41" r="2.10" fill="#3E4650"/>
<circle cx="500.60" cy="613.49" r="2.10" fill="#3E4650"/>
<circle cx="500.30" cy="608.50" r="2.10" fill="#3E4650"/>
<circle cx="500.60" cy="603.51" r="2.10" fill="#3E4650"/>
<circle cx="501.50" cy="598.59" r="2.10" fill="#3E4650"/>
<circle cx="502.99" cy="593.82" r="2.10" fill="#3E4650"/>
<circle cx="505.04" cy="589.26" r="2.10" fill="#3E4650"/>
<circle cx="507.63" cy="584.98" r="2.10" fill="#3E4650"/>
<circle cx="510.71" cy="581.05" r="2.10" fill="#3E4650"/>
<circle cx="514.25" cy="577.51" r="2.10" fill="#3E4650"/>
<circle cx="518.18" cy="574.43" r="2.10" fill="#3E4650"/>
<circle cx="522.46" cy="571.84" r="2.10" fill="#3E4650"/>
<circle cx="527.02" cy="569.79" r="2.10" fill="#3E4650"/>
<circle cx="531.79" cy="568.30" r="2.10" fill="#3E4650"/>
<circle cx="536.71" cy="567.40" r="2.10" fill="#3E4650"/>
<circle cx="541.70" cy="567.10" r="2.10" fill="#3E4650"/>
<circle cx="546.69" cy="567.40" r="2.10" fill="#3E4650"/>
<circle cx="551.61" cy="568.30" r="2.10" fill="#3E4650"/>
<circle cx="556.38" cy="569.79" r="2.10" fill="#3E4650"/>
<circle cx="560.94" cy="571.84" r="2.10" fill="#3E4650"/>
<circle cx="565.22" cy="574.43" r="2.10" fill="#3E4650"/>
<circle cx="569.15" cy="577.51" r="2.10" fill="#3E4650"/>
<circle cx="572.69" cy="581.05" r="2.10" fill="#3E4650"/>
<circle cx="575.77" cy="584.98" r="2.10" fill="#3E4650"/>
<circle cx="578.36" cy="589.26" r="2.10" fill="#3E4650"/>
<circle cx="580.41" cy="593.82" r="2.10" fill="#3E4650"/>
<circle cx="581.90" cy="598.59" r="2.10" fill="#3E4650"/>
<circle cx="582.80" cy="603.51" r="2.10" fill="#3E4650"/>
<line x1="598.2" y1="616.7" x2="644.1" y2="570.0" stroke="#2B3A9A" stroke-width="1.9" stroke-opacity="0.32"/>
<line x1="598.2" y1="616.7" x2="622.9" y2="645.8" stroke="#2B3A9A" stroke-width="1.9" stroke-opacity="0.32"/>
<line x1="606.2" y1="587.6" x2="633.5" y2="647.6" stroke="#2B3A9A" stroke-width="1.9" stroke-opacity="0.32"/>
<line x1="624.7" y1="645.8" x2="649.4" y2="570.9" stroke="#2B3A9A" stroke-width="1.9" stroke-opacity="0.32"/>
<line x1="605.3" y1="586.7" x2="654.7" y2="645.8" stroke="#2B3A9A" stroke-width="3.3" stroke-opacity="0.55"/>
<line x1="604.4" y1="584.1" x2="675.8" y2="598.2" stroke="#2B3A9A" stroke-width="4.5" stroke-opacity="0.92"/>
<polygon points="675.80,598.20 667.91,601.00 669.56,592.61" fill="#2B3A9A" fill-opacity="0.92"/>
<circle cx="678.60" cy="608.80" r="2.10" fill="#3E4650"/>
<circle cx="678.30" cy="613.79" r="2.10" fill="#3E4650"/>
<circle cx="677.40" cy="618.71" r="2.10" fill="#3E4650"/>
<circle cx="675.91" cy="623.48" r="2.10" fill="#3E4650"/>
<circle cx="673.86" cy="628.04" r="2.10" fill="#3E4650"/>
<circle cx="671.27" cy="632.32" r="2.10" fill="#3E4650"/>
<circle cx="668.19" cy="636.25" r="2.10" fill="#3E4650"/>
<circle cx="664.65" cy="639.79" r="2.10" fill="#3E4650"/>
<circle cx="660.72" cy="642.87" r="2.10" fill="#3E4650"/>
<circle cx="656.44" cy="645.46" r="2.10" fill="#3E4650"/>
<circle cx="651.88" cy="647.51" r="2.10" fill="#3E4650"/>
<circle cx="647.11" cy="649.00" r="2.10" fill="#3E4650"/>
<circle cx="642.19" cy="649.90" r="2.10" fill="#3E4650"/>
<circle cx="637.20" cy="650.20" r="2.10" fill="#3E4650"/>
<circle cx="632.21" cy="649.90" r="2.10" fill="#3E4650"/>
<circle cx="627.29" cy="649.00" r="2.10" fill="#3E4650"/>
<circle cx="622.52" cy="647.51" r="2.10" fill="#3E4650"/>
<circle cx="617.96" cy="645.46" r="2.10" fill="#3E4650"/>
<circle cx="613.68" cy="642.87" r="2.10" fill="#3E4650"/>
<circle cx="609.75" cy="639.79" r="2.10" fill="#3E4650"/>
<circle cx="606.21" cy="636.25" r="2.10" fill="#3E4650"/>
<circle cx="603.13" cy="632.32" r="2.10" fill="#3E4650"/>
<circle cx="600.54" cy="628.04" r="2.10" fill="#3E4650"/>
<circle cx="598.49" cy="623.48" r="2.10" fill="#3E4650"/>
<circle cx="597.00" cy="618.71" r="2.10" fill="#3E4650"/>
<circle cx="596.10" cy="613.79" r="2.10" fill="#3E4650"/>
<circle cx="595.80" cy="608.80" r="2.10" fill="#3E4650"/>
<circle cx="596.10" cy="603.81" r="2.10" fill="#3E4650"/>
<circle cx="597.00" cy="598.89" r="2.10" fill="#3E4650"/>
<circle cx="598.49" cy="594.12" r="2.10" fill="#3E4650"/>
<circle cx="600.54" cy="589.56" r="2.10" fill="#3E4650"/>
<circle cx="603.13" cy="585.28" r="2.10" fill="#3E4650"/>
<circle cx="606.21" cy="581.35" r="2.10" fill="#3E4650"/>
<circle cx="609.75" cy="577.81" r="2.10" fill="#3E4650"/>
<circle cx="613.68" cy="574.73" r="2.10" fill="#3E4650"/>
<circle cx="617.96" cy="572.14" r="2.10" fill="#3E4650"/>
<circle cx="622.52" cy="570.09" r="2.10" fill="#3E4650"/>
<circle cx="627.29" cy="568.60" r="2.10" fill="#3E4650"/>
<circle cx="632.21" cy="567.70" r="2.10" fill="#3E4650"/>
<circle cx="637.20" cy="567.40" r="2.10" fill="#3E4650"/>
<circle cx="642.19" cy="567.70" r="2.10" fill="#3E4650"/>
<circle cx="647.11" cy="568.60" r="2.10" fill="#3E4650"/>
<circle cx="651.88" cy="570.09" r="2.10" fill="#3E4650"/>
<circle cx="656.44" cy="572.14" r="2.10" fill="#3E4650"/>
<circle cx="660.72" cy="574.73" r="2.10" fill="#3E4650"/>
<circle cx="664.65" cy="577.81" r="2.10" fill="#3E4650"/>
<circle cx="668.19" cy="581.35" r="2.10" fill="#3E4650"/>
<circle cx="671.27" cy="585.28" r="2.10" fill="#3E4650"/>
<circle cx="673.86" cy="589.56" r="2.10" fill="#3E4650"/>
<circle cx="675.91" cy="594.12" r="2.10" fill="#3E4650"/>
<circle cx="677.40" cy="598.89" r="2.10" fill="#3E4650"/>
<circle cx="678.30" cy="603.81" r="2.10" fill="#3E4650"/>
<line x1="443.90" y1="663.40" x2="454.50" y2="663.40" stroke="#F06A72" stroke-width="3.2"/>
<text x="461.10" y="666.60" font-size="9.1" text-anchor="start" fill="#000">Up-regulated</text>
<line x1="443.90" y1="674.40" x2="454.50" y2="674.40" stroke="#2E3D96" stroke-width="3.2"/>
<text x="461.10" y="677.60" font-size="9.1" text-anchor="start" fill="#000">Down-regulated</text>
<text x="539.40" y="667.30" font-size="9.2" text-anchor="start" fill="#000">Transition probability (%)</text>
<rect x="534.20" y="671.80" width="9.30" height="6.20" fill="#000"/>
<text x="545.60" y="679.00" font-size="9.5" text-anchor="start" fill="#000">≥ 30</text>
<rect x="570.50" y="674.60" width="11.70" height="2.60" fill="#000"/>
<text x="585.10" y="679.00" font-size="9.5" text-anchor="start" fill="#000">≥ 20</text>
<line x1="606.70" y1="675.80" x2="618.40" y2="675.80" stroke="#999" stroke-width="1"/>
<text x="620.50" y="679.00" font-size="9.5" text-anchor="start" fill="#000">≥ 10</text>
</svg>
</body></html>
